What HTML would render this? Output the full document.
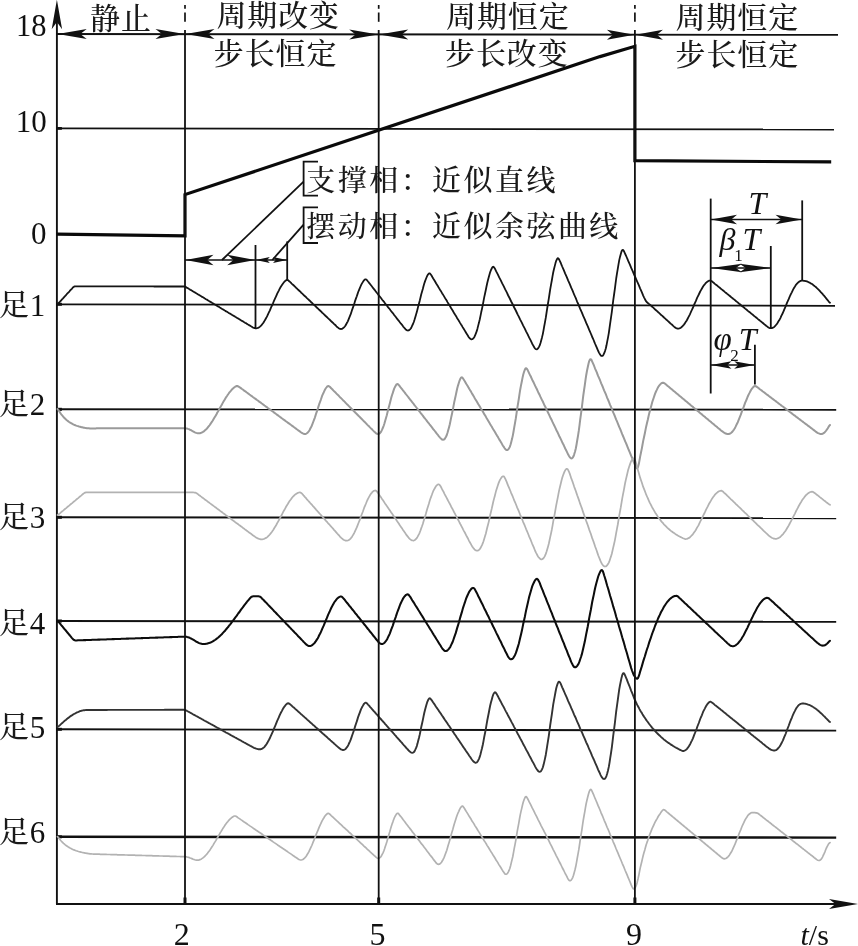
<!DOCTYPE html>
<html lang="zh-CN">
<head>
<meta charset="utf-8">
<title>六足步态相位图</title>
<style>
html,body{margin:0;padding:0;background:#fff;}
body{width:858px;height:946px;overflow:hidden;}
svg{display:block;will-change:transform;filter:grayscale(1);}
.cj{font-family:"Liberation Serif","Noto Serif CJK SC",serif;fill:#1a1a1a;font-weight:500;}
.la{font-family:"Liberation Serif","Noto Serif CJK SC",serif;fill:#111;}
</style>
</head>
<body>
<svg width="858" height="946" viewBox="0 0 858 946">
<rect x="0" y="0" width="858" height="946" fill="#ffffff"/>
<g id="lines">
<line x1="56.9" y1="14" x2="56.9" y2="904" stroke="#111" stroke-width="1.9" />
<path d="M56.9 -0.3 L51.7 29.2 L56.9 22.1 L62.1 29.2 Z" fill="#111"/>
<line x1="185" y1="5" x2="185" y2="8.8" stroke="#111" stroke-width="1.7" />
<line x1="185" y1="12.5" x2="185" y2="21.8" stroke="#111" stroke-width="1.7" />
<line x1="185" y1="897.5" x2="185" y2="904" stroke="#111" stroke-width="3" />
<line x1="378.7" y1="5" x2="378.7" y2="8.8" stroke="#111" stroke-width="1.7" />
<line x1="378.7" y1="12.5" x2="378.7" y2="21.8" stroke="#111" stroke-width="1.7" />
<line x1="378.7" y1="897.5" x2="378.7" y2="904" stroke="#111" stroke-width="3" />
<line x1="634.9" y1="5" x2="634.9" y2="8.8" stroke="#111" stroke-width="1.7" />
<line x1="634.9" y1="12.5" x2="634.9" y2="21.8" stroke="#111" stroke-width="1.7" />
<line x1="634.9" y1="897.5" x2="634.9" y2="904" stroke="#111" stroke-width="3" />
<line x1="56" y1="904" x2="840" y2="904" stroke="#111" stroke-width="2.0" />
<path d="M858.5 904 L829 899 L835.5 904 L829 909 Z" fill="#111"/>
<line x1="56.9" y1="34" x2="838" y2="34.9" stroke="#111" stroke-width="1.8" />
<path d="M57.7 34 L86.7 29 L80.3 34 L86.7 39 Z" fill="#111"/>
<path d="M184.5 34.1 L155.5 29.1 L161.9 34.1 L155.5 39.1 Z" fill="#111"/>
<path d="M185.5 34.1 L214.5 29.1 L208.1 34.1 L214.5 39.1 Z" fill="#111"/>
<path d="M378.2 34.4 L349.2 29.4 L355.6 34.4 L349.2 39.4 Z" fill="#111"/>
<path d="M379.2 34.4 L408.2 29.4 L401.8 34.4 L408.2 39.4 Z" fill="#111"/>
<path d="M634.4 34.7 L606.9 29.7 L612.9 34.7 L606.9 39.7 Z" fill="#111"/>
<path d="M635.4 34.7 L662.9 29.7 L656.9 34.7 L662.9 39.7 Z" fill="#111"/>
<line x1="56.9" y1="128.4" x2="834" y2="129.5" stroke="#111" stroke-width="1.8" />
<line x1="56.9" y1="128.4" x2="61.9" y2="128.4" stroke="#111" stroke-width="2.8" />
<line x1="56.9" y1="304.3" x2="835" y2="305.8" stroke="#111" stroke-width="1.8" />
<line x1="56.9" y1="304.3" x2="61.9" y2="304.3" stroke="#111" stroke-width="3.0" />
<line x1="56.9" y1="409.3" x2="836.2" y2="409.7" stroke="#111" stroke-width="1.9" />
<line x1="56.9" y1="409.3" x2="61.9" y2="409.3" stroke="#111" stroke-width="3.0" />
<line x1="56.9" y1="517.3" x2="836.2" y2="518.2" stroke="#111" stroke-width="1.9" />
<line x1="56.9" y1="517.3" x2="61.9" y2="517.3" stroke="#111" stroke-width="3.0" />
<line x1="56.9" y1="621" x2="836.2" y2="621.8" stroke="#111" stroke-width="1.9" />
<line x1="56.9" y1="621" x2="61.9" y2="621" stroke="#111" stroke-width="3.0" />
<line x1="56.9" y1="729.3" x2="836.2" y2="730.6" stroke="#111" stroke-width="1.9" />
<line x1="56.9" y1="729.3" x2="61.9" y2="729.3" stroke="#111" stroke-width="3.0" />
<line x1="56.9" y1="836.8" x2="836.2" y2="837.6" stroke="#111" stroke-width="2.4" />
<line x1="56.9" y1="836.8" x2="61.9" y2="836.8" stroke="#111" stroke-width="3.0" />
<path d="M56.9 234.2 L185 235.8 L185 194.6 L600 56.6 L634.9 46.3 L634.9 160.7 L831.2 161.9" fill="none" stroke="#0a0a0a" stroke-width="3.2" stroke-linejoin="miter"/>
<path d="M57.5 409 L58.2 409.8 L59 411 L59.8 412.1 L60.5 413.2 L61.2 414.3 L62 415.2 L62.8 416.1 L63.5 417 L64.2 417.8 L65 418.5 L65.8 419.3 L66.5 419.9 L67.2 420.5 L68 421.1 L68.8 421.7 L69.5 422.2 L70.2 422.7 L71 423.1 L71.8 423.5 L72.5 423.9 L73.2 424.3 L74 424.7 L74.8 425 L75.5 425.3 L76.2 425.6 L77 425.9 L77.8 426.1 L78.5 426.3 L79.2 426.6 L80 426.8 L80.8 427 L81.5 427.2 L82.2 427.3 L83 427.5 L83.8 427.7 L84.5 427.8 L85.2 427.9 L86 428.1 L86.8 428.2 L87.5 428.3 L88.2 428.3 L89 428.3 L89.8 428.4 L90.5 428.4 L91.2 428.4 L92 428.4 L92.8 428.4 L93.5 428.4 L94.2 428.4 L95 428.4 L95.8 428.4 L96.5 428.3 L97.2 428.3 L98 428.3 L98.8 428.3 L99.5 428.3 L100.2 428.3 L101 428.3 L101.8 428.3 L102.5 428.3 L103.2 428.3 L104 428.3 L104.8 428.3 L105.5 428.3 L106.2 428.3 L107 428.3 L107.8 428.3 L108.5 428.3 L109.2 428.3 L110 428.3 L110.8 428.3 L111.5 428.3 L112.2 428.3 L113 428.3 L113.8 428.3 L114.5 428.3 L115.2 428.3 L116 428.3 L116.8 428.3 L117.5 428.3 L118.2 428.3 L119 428.3 L119.8 428.3 L120.5 428.3 L121.2 428.3 L122 428.3 L122.8 428.3 L123.5 428.3 L124.2 428.3 L125 428.3 L125.8 428.3 L126.5 428.3 L127.2 428.3 L128 428.3 L128.8 428.3 L129.5 428.3 L130.2 428.3 L131 428.3 L131.8 428.3 L132.5 428.3 L133.2 428.3 L134 428.3 L134.8 428.3 L135.5 428.3 L136.2 428.3 L137 428.3 L137.8 428.3 L138.5 428.3 L139.2 428.3 L140 428.3 L140.8 428.3 L141.5 428.3 L142.2 428.3 L143 428.3 L143.8 428.3 L144.5 428.3 L145.2 428.3 L146 428.3 L146.8 428.3 L147.5 428.3 L148.2 428.3 L149 428.3 L149.8 428.3 L150.5 428.3 L151.2 428.3 L152 428.3 L152.8 428.3 L153.5 428.3 L154.2 428.3 L155 428.3 L155.8 428.3 L156.5 428.3 L157.2 428.3 L158 428.3 L158.8 428.3 L159.5 428.3 L160.2 428.3 L161 428.3 L161.8 428.3 L162.5 428.3 L163.2 428.3 L164 428.3 L164.8 428.3 L165.5 428.3 L166.2 428.3 L167 428.3 L167.8 428.3 L168.5 428.3 L169.2 428.3 L170 428.3 L170.8 428.3 L171.5 428.3 L172.2 428.3 L173 428.3 L173.8 428.3 L174.5 428.3 L175.2 428.3 L176 428.3 L176.8 428.3 L177.5 428.3 L178.2 428.3 L179 428.3 L179.8 428.3 L180.5 428.3 L181.2 428.3 L182 428.3 L182.8 428.3 L183.5 428.3 L184.2 428.3 L185 428.3 L185.8 428.4 L186.5 428.5 L187.2 428.6 L188 428.9 L188.8 429.1 L189.5 429.5 L190.2 429.8 L191 430.2 L191.8 430.7 L192.5 431.1 L193.2 431.5 L194 431.9 L194.8 432.3 L195.5 432.6 L196.2 432.9 L197 433.1 L197.8 433.3 L198.5 433.3 L199.2 433.3 L200 433.2 L200.8 432.9 L201.5 432.7 L202.2 432.3 L203 431.9 L203.8 431.4 L204.5 430.8 L205.2 430.1 L206 429.4 L206.8 428.7 L207.5 427.8 L208.2 426.9 L209 426 L209.8 425 L210.5 423.9 L211.2 422.8 L212 421.7 L212.8 420.5 L213.5 419.3 L214.2 418.1 L215 416.8 L215.8 415.5 L216.5 414.2 L217.2 412.8 L218 411.5 L218.8 410.1 L219.5 408.8 L220.2 407.4 L221 406.1 L221.8 404.7 L222.5 403.4 L223.2 402.1 L224 400.8 L224.8 399.5 L225.5 398.3 L226.2 397.1 L227 396 L227.8 394.8 L228.5 393.8 L229.2 392.7 L230 391.8 L230.8 390.9 L231.5 390 L232.2 389.2 L233 388.5 L233.8 387.8 L234.5 387.2 L235.2 386.7 L236 386.3 L236.8 386 L237.5 386 L238.2 386.3 L239 386.8 L239.8 387.3 L240.5 387.9 L241.2 388.4 L242 389 L242.8 389.5 L243.5 390.1 L244.2 390.6 L245 391.2 L245.8 391.7 L246.5 392.3 L247.2 392.8 L248 393.4 L248.8 393.9 L249.5 394.5 L250.2 395 L251 395.6 L251.8 396.1 L252.5 396.7 L253.2 397.2 L254 397.8 L254.8 398.3 L255.5 398.9 L256.2 399.4 L257 400 L257.8 400.5 L258.5 401.1 L259.2 401.6 L260 402.2 L260.8 402.7 L261.5 403.3 L262.2 403.8 L263 404.4 L263.8 404.9 L264.5 405.5 L265.2 406 L266 406.6 L266.8 407.1 L267.5 407.7 L268.2 408.2 L269 408.8 L269.8 409.3 L270.5 409.9 L271.2 410.4 L272 411 L272.8 411.5 L273.5 412.1 L274.2 412.7 L275 413.2 L275.8 413.8 L276.5 414.3 L277.2 414.9 L278 415.4 L278.8 416 L279.5 416.5 L280.2 417.1 L281 417.6 L281.8 418.2 L282.5 418.7 L283.2 419.3 L284 419.8 L284.8 420.4 L285.5 420.9 L286.2 421.5 L287 422 L287.8 422.6 L288.5 423.1 L289.2 423.7 L290 424.2 L290.8 424.8 L291.5 425.3 L292.2 425.9 L293 426.4 L293.8 427 L294.5 427.5 L295.2 428.1 L296 428.6 L296.8 429.2 L297.5 429.7 L298.2 430.3 L299 430.8 L299.8 431.4 L300.5 431.9 L301.2 432.5 L302 433 L302.8 433.4 L303.5 433.7 L304.2 434 L305 434 L305.8 433.9 L306.5 433.5 L307.2 433 L308 432.2 L308.8 431.3 L309.5 430.2 L310.2 428.8 L311 427.3 L311.8 425.7 L312.5 423.9 L313.2 422 L314 419.9 L314.8 417.8 L315.5 415.6 L316.2 413.3 L317 411.1 L317.8 408.7 L318.5 406.4 L319.2 404.2 L320 402 L320.8 399.8 L321.5 397.7 L322.2 395.7 L323 393.9 L323.8 392.2 L324.5 390.6 L325.2 389.2 L326 388 L326.8 387 L327.5 386.3 L328.2 386 L329 386.2 L329.8 386.8 L330.5 387.5 L331.2 388.3 L332 389 L332.8 389.8 L333.5 390.6 L334.2 391.3 L335 392.1 L335.8 392.8 L336.5 393.6 L337.2 394.3 L338 395.1 L338.8 395.8 L339.5 396.6 L340.2 397.4 L341 398.1 L341.8 398.9 L342.5 399.6 L343.2 400.4 L344 401.1 L344.8 401.9 L345.5 402.7 L346.2 403.4 L347 404.2 L347.8 404.9 L348.5 405.7 L349.2 406.4 L350 407.2 L350.8 408 L351.5 408.7 L352.2 409.5 L353 410.2 L353.8 411 L354.5 411.7 L355.2 412.5 L356 413.2 L356.8 414 L357.5 414.8 L358.2 415.5 L359 416.3 L359.8 417 L360.5 417.8 L361.2 418.5 L362 419.3 L362.8 420.1 L363.5 420.8 L364.2 421.6 L365 422.3 L365.8 423.1 L366.5 423.8 L367.2 424.6 L368 425.4 L368.8 426.1 L369.5 426.9 L370.2 427.6 L371 428.4 L371.8 429.1 L372.5 429.9 L373.2 430.6 L374 431.4 L374.8 432.1 L375.5 432.8 L376.2 433.4 L377 433.8 L377.8 434 L378.5 434 L379.2 433.7 L380 433.1 L380.8 432.2 L381.5 430.9 L382.2 429.4 L383 427.5 L383.8 425.5 L384.5 423.2 L385.2 420.7 L386 418 L386.8 415.2 L387.5 412.3 L388.2 409.4 L389 406.5 L389.8 403.5 L390.5 400.7 L391.2 397.9 L392 395.3 L392.8 392.9 L393.5 390.6 L394.2 388.6 L395 386.9 L395.8 385.5 L396.5 384.4 L397.2 384 L398 384.2 L398.8 385 L399.5 385.9 L400.2 386.9 L401 387.8 L401.8 388.8 L402.5 389.7 L403.2 390.7 L404 391.7 L404.8 392.6 L405.5 393.6 L406.2 394.5 L407 395.5 L407.8 396.5 L408.5 397.4 L409.2 398.4 L410 399.3 L410.8 400.3 L411.5 401.2 L412.2 402.2 L413 403.2 L413.8 404.1 L414.5 405.1 L415.2 406 L416 407 L416.8 408 L417.5 408.9 L418.2 409.9 L419 410.8 L419.8 411.8 L420.5 412.8 L421.2 413.7 L422 414.7 L422.8 415.6 L423.5 416.6 L424.2 417.6 L425 418.5 L425.8 419.5 L426.5 420.4 L427.2 421.4 L428 422.4 L428.8 423.3 L429.5 424.3 L430.2 425.2 L431 426.2 L431.8 427.2 L432.5 428.1 L433.2 429.1 L434 430 L434.8 431 L435.5 431.9 L436.2 432.9 L437 433.9 L437.8 434.8 L438.5 435.8 L439.2 436.7 L440 437.6 L440.8 438.4 L441.5 439.1 L442.2 439.6 L443 439.8 L443.8 439.6 L444.5 439.1 L445.2 438.1 L446 436.7 L446.8 435 L447.5 432.8 L448.2 430.3 L449 427.4 L449.8 424.3 L450.5 420.9 L451.2 417.4 L452 413.7 L452.8 409.9 L453.5 406.1 L454.2 402.4 L455 398.7 L455.8 395.1 L456.5 391.7 L457.2 388.5 L458 385.6 L458.8 383 L459.5 380.8 L460.2 379 L461 377.7 L461.8 377.3 L462.5 377.7 L463.2 378.8 L464 380 L464.8 381.2 L465.5 382.5 L466.2 383.8 L467 385 L467.8 386.3 L468.5 387.6 L469.2 388.8 L470 390.1 L470.8 391.3 L471.5 392.6 L472.2 393.9 L473 395.1 L473.8 396.4 L474.5 397.7 L475.2 398.9 L476 400.2 L476.8 401.5 L477.5 402.7 L478.2 404 L479 405.2 L479.8 406.5 L480.5 407.8 L481.2 409 L482 410.3 L482.8 411.6 L483.5 412.8 L484.2 414.1 L485 415.3 L485.8 416.6 L486.5 417.9 L487.2 419.1 L488 420.4 L488.8 421.7 L489.5 422.9 L490.2 424.2 L491 425.5 L491.8 426.7 L492.5 428 L493.2 429.2 L494 430.5 L494.8 431.8 L495.5 433 L496.2 434.3 L497 435.6 L497.8 436.8 L498.5 438.1 L499.2 439.4 L500 440.6 L500.8 441.9 L501.5 443.1 L502.2 444.4 L503 445.7 L503.8 446.9 L504.5 448 L505.2 449 L506 449.7 L506.8 450 L507.5 450 L508.2 449.5 L509 448.4 L509.8 446.9 L510.5 444.8 L511.2 442.2 L512 439.1 L512.8 435.6 L513.5 431.8 L514.2 427.6 L515 423.1 L515.8 418.4 L516.5 413.6 L517.2 408.7 L518 403.8 L518.8 399 L519.5 394.2 L520.2 389.7 L521 385.4 L521.8 381.5 L522.5 377.9 L523.2 374.7 L524 372 L524.8 369.8 L525.5 368.5 L526.2 368.2 L527 369 L527.8 370.3 L528.5 371.8 L529.2 373.4 L530 375 L530.8 376.5 L531.5 378.1 L532.2 379.7 L533 381.2 L533.8 382.8 L534.5 384.3 L535.2 385.9 L536 387.5 L536.8 389 L537.5 390.6 L538.2 392.2 L539 393.7 L539.8 395.3 L540.5 396.9 L541.2 398.4 L542 400 L542.8 401.5 L543.5 403.1 L544.2 404.7 L545 406.2 L545.8 407.8 L546.5 409.4 L547.2 410.9 L548 412.5 L548.8 414.1 L549.5 415.6 L550.2 417.2 L551 418.7 L551.8 420.3 L552.5 421.9 L553.2 423.4 L554 425 L554.8 426.6 L555.5 428.1 L556.2 429.7 L557 431.3 L557.8 432.8 L558.5 434.4 L559.2 436 L560 437.5 L560.8 439.1 L561.5 440.6 L562.2 442.2 L563 443.8 L563.8 445.3 L564.5 446.9 L565.2 448.5 L566 450 L566.8 451.6 L567.5 453.1 L568.2 454.6 L569 456 L569.8 457.1 L570.5 458 L571.2 458.4 L572 458.3 L572.8 457.6 L573.5 456.3 L574.2 454.3 L575 451.7 L575.8 448.5 L576.5 444.7 L577.2 440.5 L578 435.8 L578.8 430.7 L579.5 425.3 L580.2 419.6 L581 413.8 L581.8 407.9 L582.5 402 L583.2 396.2 L584 390.5 L584.8 385.1 L585.5 379.9 L586.2 375.2 L587 370.8 L587.8 367 L588.5 363.7 L589.2 361.1 L590 359.5 L590.8 359.2 L591.5 360 L592.2 361.6 L593 363.4 L593.8 365.2 L594.5 367 L595.2 368.8 L596 370.6 L596.8 372.4 L597.5 374.3 L598.2 376.1 L599 377.9 L599.8 379.7 L600.5 381.5 L601.2 383.3 L602 385.1 L602.8 387 L603.5 388.8 L604.2 390.6 L605 392.4 L605.8 394.2 L606.5 396 L607.2 397.8 L608 399.7 L608.8 401.5 L609.5 403.3 L610.2 405.1 L611 406.9 L611.8 408.7 L612.5 410.6 L613.2 412.4 L614 414.2 L614.8 416 L615.5 417.8 L616.2 419.6 L617 421.4 L617.8 423.3 L618.5 425.1 L619.2 426.9 L620 428.7 L620.8 430.5 L621.5 432.3 L622.2 434.1 L623 436 L623.8 437.8 L624.5 439.6 L625.2 441.4 L626 443.2 L626.8 445 L627.5 446.9 L628.2 448.7 L629 450.5 L629.8 452.3 L630.5 454.1 L631.2 455.9 L632 457.7 L632.8 459.6 L633.5 461.4 L634.2 463.2 L635 465 L635.8 466.7 L636.5 468.1 L637.2 468.5 L638 467.1 L638.8 464.1 L639.5 460.4 L640.2 456.4 L641 452.5 L641.8 448.6 L642.5 444.7 L643.2 440.9 L644 437.2 L644.8 433.5 L645.5 429.9 L646.2 426.4 L647 423 L647.8 419.7 L648.5 416.5 L649.2 413.4 L650 410.4 L650.8 407.6 L651.5 404.9 L652.2 402.3 L653 399.8 L653.8 397.5 L654.5 395.4 L655.2 393.4 L656 391.5 L656.8 389.9 L657.5 388.4 L658.2 387 L659 385.9 L659.8 384.9 L660.5 384.1 L661.2 383.4 L662 383 L662.8 382.7 L663.5 382.8 L664.2 383.2 L665 383.7 L665.8 384.3 L666.5 384.9 L667.2 385.6 L668 386.2 L668.8 386.8 L669.5 387.4 L670.2 388.1 L671 388.7 L671.8 389.3 L672.5 389.9 L673.2 390.6 L674 391.2 L674.8 391.8 L675.5 392.4 L676.2 393.1 L677 393.7 L677.8 394.3 L678.5 394.9 L679.2 395.6 L680 396.2 L680.8 396.8 L681.5 397.4 L682.2 398.1 L683 398.7 L683.8 399.3 L684.5 399.9 L685.2 400.6 L686 401.2 L686.8 401.8 L687.5 402.4 L688.2 403.1 L689 403.7 L689.8 404.3 L690.5 405 L691.2 405.6 L692 406.2 L692.8 406.8 L693.5 407.5 L694.2 408.1 L695 408.7 L695.8 409.3 L696.5 410 L697.2 410.6 L698 411.2 L698.8 411.8 L699.5 412.5 L700.2 413.1 L701 413.7 L701.8 414.3 L702.5 415 L703.2 415.6 L704 416.2 L704.8 416.8 L705.5 417.5 L706.2 418.1 L707 418.7 L707.8 419.3 L708.5 420 L709.2 420.6 L710 421.2 L710.8 421.8 L711.5 422.5 L712.2 423.1 L713 423.7 L713.8 424.3 L714.5 425 L715.2 425.6 L716 426.2 L716.8 426.8 L717.5 427.5 L718.2 428.1 L719 428.7 L719.8 429.3 L720.5 430 L721.2 430.6 L722 431.2 L722.8 431.7 L723.5 432.3 L724.2 432.7 L725 433.2 L725.8 433.5 L726.5 433.8 L727.2 433.9 L728 434 L728.8 434 L729.5 433.8 L730.2 433.5 L731 433 L731.8 432.3 L732.5 431.5 L733.2 430.6 L734 429.5 L734.8 428.3 L735.5 426.9 L736.2 425.4 L737 423.8 L737.8 422.2 L738.5 420.4 L739.2 418.6 L740 416.7 L740.8 414.7 L741.5 412.7 L742.2 410.7 L743 408.7 L743.8 406.7 L744.5 404.7 L745.2 402.7 L746 400.8 L746.8 399 L747.5 397.2 L748.2 395.5 L749 393.9 L749.8 392.4 L750.5 391 L751.2 389.8 L752 388.6 L752.8 387.7 L753.5 386.8 L754.2 386.2 L755 386 L755.8 386.2 L756.5 386.6 L757.2 387.2 L758 387.7 L758.8 388.3 L759.5 388.9 L760.2 389.5 L761 390 L761.8 390.6 L762.5 391.2 L763.2 391.7 L764 392.3 L764.8 392.9 L765.5 393.4 L766.2 394 L767 394.6 L767.8 395.1 L768.5 395.7 L769.2 396.3 L770 396.9 L770.8 397.4 L771.5 398 L772.2 398.6 L773 399.1 L773.8 399.7 L774.5 400.3 L775.2 400.8 L776 401.4 L776.8 402 L777.5 402.5 L778.2 403.1 L779 403.7 L779.8 404.3 L780.5 404.8 L781.2 405.4 L782 406 L782.8 406.5 L783.5 407.1 L784.2 407.7 L785 408.2 L785.8 408.8 L786.5 409.4 L787.2 409.9 L788 410.5 L788.8 411.1 L789.5 411.7 L790.2 412.2 L791 412.8 L791.8 413.4 L792.5 413.9 L793.2 414.5 L794 415.1 L794.8 415.6 L795.5 416.2 L796.2 416.8 L797 417.3 L797.8 417.9 L798.5 418.5 L799.2 419 L800 419.6 L800.8 420.2 L801.5 420.8 L802.2 421.3 L803 421.9 L803.8 422.5 L804.5 423 L805.2 423.6 L806 424.2 L806.8 424.7 L807.5 425.3 L808.2 425.9 L809 426.4 L809.8 427 L810.5 427.6 L811.2 428.2 L812 428.7 L812.8 429.3 L813.5 429.9 L814.2 430.4 L815 431 L815.8 431.6 L816.5 432.1 L817.2 432.6 L818 433.1 L818.8 433.4 L819.5 433.7 L820.2 433.9 L821 434 L821.8 434 L822.5 433.8 L823.2 433.4 L824 432.9 L824.8 432.2 L825.5 431.4 L826.2 430.5 L827 429.4 L827.8 428.2 L828.5 427 L829.2 425.9 L830 425" fill="none" stroke="#9a9a9a" stroke-width="2.0" stroke-linejoin="round" stroke-linecap="round" />
<path d="M57.5 515 L58.2 514.6 L59 514 L59.8 513.4 L60.5 512.8 L61.2 512.2 L62 511.5 L62.8 510.9 L63.5 510.3 L64.2 509.7 L65 509 L65.8 508.4 L66.5 507.8 L67.2 507.2 L68 506.5 L68.8 505.9 L69.5 505.3 L70.2 504.7 L71 504 L71.8 503.4 L72.5 502.8 L73.2 502.2 L74 501.5 L74.8 500.9 L75.5 500.3 L76.2 499.7 L77 499 L77.8 498.4 L78.5 497.8 L79.2 497.2 L80 496.5 L80.8 495.9 L81.5 495.3 L82.2 494.7 L83 494 L83.8 493.4 L84.5 492.9 L85.2 492.6 L86 492.4 L86.8 492.4 L87.5 492.4 L88.2 492.4 L89 492.4 L89.8 492.4 L90.5 492.4 L91.2 492.4 L92 492.4 L92.8 492.4 L93.5 492.4 L94.2 492.4 L95 492.4 L95.8 492.4 L96.5 492.4 L97.2 492.4 L98 492.4 L98.8 492.4 L99.5 492.4 L100.2 492.4 L101 492.4 L101.8 492.4 L102.5 492.4 L103.2 492.4 L104 492.4 L104.8 492.4 L105.5 492.4 L106.2 492.4 L107 492.4 L107.8 492.4 L108.5 492.4 L109.2 492.4 L110 492.4 L110.8 492.4 L111.5 492.4 L112.2 492.4 L113 492.4 L113.8 492.4 L114.5 492.4 L115.2 492.4 L116 492.4 L116.8 492.4 L117.5 492.4 L118.2 492.4 L119 492.4 L119.8 492.4 L120.5 492.4 L121.2 492.4 L122 492.4 L122.8 492.4 L123.5 492.4 L124.2 492.4 L125 492.4 L125.8 492.4 L126.5 492.4 L127.2 492.4 L128 492.4 L128.8 492.4 L129.5 492.4 L130.2 492.4 L131 492.4 L131.8 492.4 L132.5 492.4 L133.2 492.4 L134 492.4 L134.8 492.4 L135.5 492.4 L136.2 492.4 L137 492.4 L137.8 492.4 L138.5 492.4 L139.2 492.4 L140 492.4 L140.8 492.4 L141.5 492.4 L142.2 492.4 L143 492.4 L143.8 492.4 L144.5 492.4 L145.2 492.4 L146 492.4 L146.8 492.4 L147.5 492.4 L148.2 492.4 L149 492.4 L149.8 492.4 L150.5 492.4 L151.2 492.4 L152 492.4 L152.8 492.4 L153.5 492.4 L154.2 492.4 L155 492.4 L155.8 492.4 L156.5 492.4 L157.2 492.4 L158 492.4 L158.8 492.4 L159.5 492.4 L160.2 492.4 L161 492.4 L161.8 492.4 L162.5 492.4 L163.2 492.4 L164 492.4 L164.8 492.4 L165.5 492.4 L166.2 492.4 L167 492.4 L167.8 492.4 L168.5 492.4 L169.2 492.4 L170 492.4 L170.8 492.4 L171.5 492.4 L172.2 492.4 L173 492.4 L173.8 492.4 L174.5 492.4 L175.2 492.4 L176 492.4 L176.8 492.4 L177.5 492.4 L178.2 492.4 L179 492.4 L179.8 492.4 L180.5 492.4 L181.2 492.4 L182 492.4 L182.8 492.4 L183.5 492.4 L184.2 492.4 L185 492.4 L185.8 492.4 L186.5 492.4 L187.2 492.4 L188 492.4 L188.8 492.4 L189.5 492.4 L190.2 492.4 L191 492.4 L191.8 492.4 L192.5 492.4 L193.2 492.4 L194 492.5 L194.8 492.5 L195.5 492.7 L196.2 493.1 L197 493.6 L197.8 494.1 L198.5 494.7 L199.2 495.2 L200 495.8 L200.8 496.4 L201.5 496.9 L202.2 497.5 L203 498 L203.8 498.6 L204.5 499.2 L205.2 499.7 L206 500.3 L206.8 500.8 L207.5 501.4 L208.2 502 L209 502.5 L209.8 503.1 L210.5 503.6 L211.2 504.2 L212 504.8 L212.8 505.3 L213.5 505.9 L214.2 506.4 L215 507 L215.8 507.5 L216.5 508.1 L217.2 508.7 L218 509.2 L218.8 509.8 L219.5 510.3 L220.2 510.9 L221 511.5 L221.8 512 L222.5 512.6 L223.2 513.1 L224 513.7 L224.8 514.3 L225.5 514.8 L226.2 515.4 L227 515.9 L227.8 516.5 L228.5 517.1 L229.2 517.6 L230 518.2 L230.8 518.7 L231.5 519.3 L232.2 519.9 L233 520.4 L233.8 521 L234.5 521.5 L235.2 522.1 L236 522.7 L236.8 523.2 L237.5 523.8 L238.2 524.3 L239 524.9 L239.8 525.4 L240.5 526 L241.2 526.6 L242 527.1 L242.8 527.7 L243.5 528.2 L244.2 528.8 L245 529.4 L245.8 529.9 L246.5 530.5 L247.2 531 L248 531.6 L248.8 532.2 L249.5 532.7 L250.2 533.3 L251 533.8 L251.8 534.4 L252.5 535 L253.2 535.5 L254 536.1 L254.8 536.6 L255.5 537.1 L256.2 537.6 L257 538 L257.8 538.4 L258.5 538.7 L259.2 538.9 L260 539.1 L260.8 539.3 L261.5 539.3 L262.2 539.3 L263 539.2 L263.8 539 L264.5 538.7 L265.2 538.3 L266 537.9 L266.8 537.4 L267.5 536.8 L268.2 536.1 L269 535.4 L269.8 534.5 L270.5 533.6 L271.2 532.7 L272 531.7 L272.8 530.6 L273.5 529.5 L274.2 528.3 L275 527.1 L275.8 525.8 L276.5 524.5 L277.2 523.1 L278 521.8 L278.8 520.4 L279.5 519 L280.2 517.6 L281 516.2 L281.8 514.8 L282.5 513.3 L283.2 511.9 L284 510.5 L284.8 509.2 L285.5 507.8 L286.2 506.5 L287 505.2 L287.8 504 L288.5 502.8 L289.2 501.6 L290 500.5 L290.8 499.5 L291.5 498.5 L292.2 497.5 L293 496.7 L293.8 495.9 L294.5 495.2 L295.2 494.5 L296 494 L296.8 493.5 L297.5 493.1 L298.2 492.8 L299 492.5 L299.8 492.4 L300.5 492.6 L301.2 493 L302 493.7 L302.8 494.5 L303.5 495.4 L304.2 496.2 L305 497.1 L305.8 497.9 L306.5 498.8 L307.2 499.6 L308 500.5 L308.8 501.3 L309.5 502.1 L310.2 503 L311 503.8 L311.8 504.7 L312.5 505.5 L313.2 506.4 L314 507.2 L314.8 508.1 L315.5 508.9 L316.2 509.8 L317 510.6 L317.8 511.5 L318.5 512.3 L319.2 513.2 L320 514 L320.8 514.8 L321.5 515.7 L322.2 516.5 L323 517.4 L323.8 518.2 L324.5 519.1 L325.2 519.9 L326 520.8 L326.8 521.6 L327.5 522.5 L328.2 523.3 L329 524.2 L329.8 525 L330.5 525.8 L331.2 526.7 L332 527.5 L332.8 528.4 L333.5 529.2 L334.2 530.1 L335 530.9 L335.8 531.8 L336.5 532.6 L337.2 533.5 L338 534.3 L338.8 535.2 L339.5 536 L340.2 536.8 L341 537.6 L341.8 538.3 L342.5 538.9 L343.2 539.5 L344 540 L344.8 540.3 L345.5 540.6 L346.2 540.7 L347 540.7 L347.8 540.5 L348.5 540.2 L349.2 539.8 L350 539.1 L350.8 538.3 L351.5 537.4 L352.2 536.4 L353 535.1 L353.8 533.8 L354.5 532.4 L355.2 530.8 L356 529.1 L356.8 527.4 L357.5 525.6 L358.2 523.7 L359 521.7 L359.8 519.8 L360.5 517.7 L361.2 515.7 L362 513.7 L362.8 511.7 L363.5 509.7 L364.2 507.7 L365 505.8 L365.8 504 L366.5 502.2 L367.2 500.5 L368 498.9 L368.8 497.4 L369.5 496.1 L370.2 494.8 L371 493.7 L371.8 492.8 L372.5 491.9 L373.2 491.3 L374 490.8 L374.8 490.5 L375.5 490.4 L376.2 490.8 L377 491.6 L377.8 492.6 L378.5 493.7 L379.2 494.8 L380 495.9 L380.8 497 L381.5 498.1 L382.2 499.2 L383 500.3 L383.8 501.5 L384.5 502.6 L385.2 503.7 L386 504.8 L386.8 505.9 L387.5 507 L388.2 508.1 L389 509.2 L389.8 510.3 L390.5 511.4 L391.2 512.5 L392 513.6 L392.8 514.7 L393.5 515.8 L394.2 516.9 L395 518 L395.8 519.1 L396.5 520.2 L397.2 521.3 L398 522.4 L398.8 523.5 L399.5 524.7 L400.2 525.8 L401 526.9 L401.8 528 L402.5 529.1 L403.2 530.2 L404 531.3 L404.8 532.4 L405.5 533.5 L406.2 534.6 L407 535.6 L407.8 536.6 L408.5 537.5 L409.2 538.4 L410 539.1 L410.8 539.7 L411.5 540.1 L412.2 540.4 L413 540.5 L413.8 540.5 L414.5 540.2 L415.2 539.7 L416 539 L416.8 538.1 L417.5 536.9 L418.2 535.6 L419 534.1 L419.8 532.3 L420.5 530.5 L421.2 528.4 L422 526.3 L422.8 524 L423.5 521.6 L424.2 519.2 L425 516.7 L425.8 514.1 L426.5 511.6 L427.2 509 L428 506.5 L428.8 504 L429.5 501.6 L430.2 499.3 L431 497.1 L431.8 495 L432.5 493 L433.2 491.2 L434 489.6 L434.8 488.2 L435.5 487 L436.2 485.9 L437 485.1 L437.8 484.5 L438.5 484.3 L439.2 484.5 L440 485.4 L440.8 486.6 L441.5 488 L442.2 489.5 L443 490.9 L443.8 492.3 L444.5 493.8 L445.2 495.2 L446 496.6 L446.8 498.1 L447.5 499.5 L448.2 500.9 L449 502.4 L449.8 503.8 L450.5 505.2 L451.2 506.7 L452 508.1 L452.8 509.5 L453.5 511 L454.2 512.4 L455 513.8 L455.8 515.3 L456.5 516.7 L457.2 518.2 L458 519.6 L458.8 521 L459.5 522.5 L460.2 523.9 L461 525.3 L461.8 526.8 L462.5 528.2 L463.2 529.6 L464 531.1 L464.8 532.5 L465.5 533.9 L466.2 535.4 L467 536.8 L467.8 538.2 L468.5 539.7 L469.2 541.1 L470 542.5 L470.8 543.9 L471.5 545.2 L472.2 546.4 L473 547.6 L473.8 548.5 L474.5 549.4 L475.2 550 L476 550.5 L476.8 550.7 L477.5 550.7 L478.2 550.5 L479 549.9 L479.8 549.1 L480.5 548.1 L481.2 546.7 L482 545.1 L482.8 543.2 L483.5 541.2 L484.2 538.9 L485 536.3 L485.8 533.7 L486.5 530.8 L487.2 527.8 L488 524.7 L488.8 521.6 L489.5 518.3 L490.2 515 L491 511.7 L491.8 508.4 L492.5 505.2 L493.2 502 L494 498.9 L494.8 495.9 L495.5 493.1 L496.2 490.4 L497 487.9 L497.8 485.5 L498.5 483.4 L499.2 481.6 L500 479.9 L500.8 478.6 L501.5 477.5 L502.2 476.7 L503 476.3 L503.8 476.4 L504.5 477.3 L505.2 478.7 L506 480.4 L506.8 482.2 L507.5 484.1 L508.2 485.9 L509 487.7 L509.8 489.5 L510.5 491.3 L511.2 493.1 L512 494.9 L512.8 496.7 L513.5 498.5 L514.2 500.4 L515 502.2 L515.8 504 L516.5 505.8 L517.2 507.6 L518 509.4 L518.8 511.2 L519.5 513 L520.2 514.8 L521 516.7 L521.8 518.5 L522.5 520.3 L523.2 522.1 L524 523.9 L524.8 525.7 L525.5 527.5 L526.2 529.3 L527 531.1 L527.8 533 L528.5 534.8 L529.2 536.6 L530 538.4 L530.8 540.2 L531.5 542 L532.2 543.8 L533 545.6 L533.8 547.4 L534.5 549.2 L535.2 551 L536 552.6 L536.8 554.1 L537.5 555.5 L538.2 556.7 L539 557.7 L539.8 558.5 L540.5 559.1 L541.2 559.3 L542 559.3 L542.8 558.9 L543.5 558.2 L544.2 557.1 L545 555.7 L545.8 553.9 L546.5 551.8 L547.2 549.4 L548 546.7 L548.8 543.8 L549.5 540.5 L550.2 537.1 L551 533.5 L551.8 529.7 L552.5 525.8 L553.2 521.7 L554 517.7 L554.8 513.5 L555.5 509.4 L556.2 505.4 L557 501.3 L557.8 497.4 L558.5 493.7 L559.2 490.1 L560 486.7 L560.8 483.5 L561.5 480.5 L562.2 477.9 L563 475.5 L563.8 473.4 L564.5 471.7 L565.2 470.3 L566 469.3 L566.8 468.8 L567.5 469 L568.2 470.1 L569 471.8 L569.8 473.9 L570.5 476 L571.2 478.1 L572 480.3 L572.8 482.4 L573.5 484.6 L574.2 486.7 L575 488.9 L575.8 491 L576.5 493.1 L577.2 495.3 L578 497.4 L578.8 499.6 L579.5 501.7 L580.2 503.9 L581 506 L581.8 508.1 L582.5 510.3 L583.2 512.4 L584 514.6 L584.8 516.7 L585.5 518.9 L586.2 521 L587 523.1 L587.8 525.3 L588.5 527.4 L589.2 529.6 L590 531.7 L590.8 533.8 L591.5 536 L592.2 538.1 L593 540.3 L593.8 542.4 L594.5 544.6 L595.2 546.7 L596 548.8 L596.8 551 L597.5 553.1 L598.2 555.2 L599 557.2 L599.8 559.1 L600.5 560.9 L601.2 562.5 L602 563.9 L602.8 565 L603.5 565.8 L604.2 566.3 L605 566.5 L605.8 566.4 L606.5 566 L607.2 565.2 L608 564.1 L608.8 562.6 L609.5 560.9 L610.2 558.8 L611 556.4 L611.8 553.7 L612.5 550.8 L613.2 547.6 L614 544.2 L614.8 540.6 L615.5 536.8 L616.2 532.8 L617 528.7 L617.8 524.5 L618.5 520.2 L619.2 515.9 L620 511.5 L620.8 507.2 L621.5 502.9 L622.2 498.6 L623 494.4 L623.8 490.4 L624.5 486.5 L625.2 482.7 L626 479.1 L626.8 475.8 L627.5 472.7 L628.2 469.8 L629 467.2 L629.8 464.9 L630.5 462.9 L631.2 461.2 L632 459.8 L632.8 458.8 L633.5 458.3 L634.2 458.6 L635 459.9 L635.8 462.2 L636.5 464.9 L637.2 467.6 L638 470.3 L638.8 472.9 L639.5 475.5 L640.2 477.9 L641 480.2 L641.8 482.5 L642.5 484.7 L643.2 486.9 L644 488.9 L644.8 490.9 L645.5 492.8 L646.2 494.7 L647 496.5 L647.8 498.2 L648.5 499.9 L649.2 501.5 L650 503.1 L650.8 504.6 L651.5 506 L652.2 507.5 L653 508.8 L653.8 510.1 L654.5 511.4 L655.2 512.7 L656 513.8 L656.8 515 L657.5 516.1 L658.2 517.2 L659 518.2 L659.8 519.2 L660.5 520.2 L661.2 521.2 L662 522.1 L662.8 522.9 L663.5 523.8 L664.2 524.6 L665 525.4 L665.8 526.2 L666.5 526.9 L667.2 527.6 L668 528.3 L668.8 529 L669.5 529.6 L670.2 530.3 L671 530.9 L671.8 531.4 L672.5 532 L673.2 532.6 L674 533.1 L674.8 533.6 L675.5 534.1 L676.2 534.6 L677 535 L677.8 535.5 L678.5 535.9 L679.2 536.3 L680 536.7 L680.8 537.1 L681.5 537.5 L682.2 537.8 L683 538.2 L683.8 538.5 L684.5 538.8 L685.2 539 L686 539 L686.8 538.9 L687.5 538.7 L688.2 538.3 L689 537.9 L689.8 537.4 L690.5 536.7 L691.2 536 L692 535.2 L692.8 534.3 L693.5 533.3 L694.2 532.3 L695 531.2 L695.8 530 L696.5 528.7 L697.2 527.4 L698 526.1 L698.8 524.7 L699.5 523.2 L700.2 521.7 L701 520.2 L701.8 518.7 L702.5 517.1 L703.2 515.6 L704 514 L704.8 512.5 L705.5 510.9 L706.2 509.4 L707 507.9 L707.8 506.4 L708.5 504.9 L709.2 503.5 L710 502.2 L710.8 500.9 L711.5 499.6 L712.2 498.4 L713 497.3 L713.8 496.3 L714.5 495.3 L715.2 494.4 L716 493.6 L716.8 492.9 L717.5 492.3 L718.2 491.8 L719 491.3 L719.8 491 L720.5 490.8 L721.2 490.7 L722 490.9 L722.8 491.4 L723.5 492.1 L724.2 492.8 L725 493.5 L725.8 494.2 L726.5 494.9 L727.2 495.7 L728 496.4 L728.8 497.1 L729.5 497.8 L730.2 498.5 L731 499.3 L731.8 500 L732.5 500.7 L733.2 501.4 L734 502.2 L734.8 502.9 L735.5 503.6 L736.2 504.3 L737 505 L737.8 505.8 L738.5 506.5 L739.2 507.2 L740 507.9 L740.8 508.7 L741.5 509.4 L742.2 510.1 L743 510.8 L743.8 511.5 L744.5 512.3 L745.2 513 L746 513.7 L746.8 514.4 L747.5 515.2 L748.2 515.9 L749 516.6 L749.8 517.3 L750.5 518.1 L751.2 518.8 L752 519.5 L752.8 520.2 L753.5 520.9 L754.2 521.7 L755 522.4 L755.8 523.1 L756.5 523.8 L757.2 524.6 L758 525.3 L758.8 526 L759.5 526.7 L760.2 527.4 L761 528.2 L761.8 528.9 L762.5 529.6 L763.2 530.3 L764 531.1 L764.8 531.8 L765.5 532.5 L766.2 533.2 L767 533.9 L767.8 534.6 L768.5 535.3 L769.2 536 L770 536.6 L770.8 537.1 L771.5 537.6 L772.2 538 L773 538.3 L773.8 538.6 L774.5 538.7 L775.2 538.8 L776 538.8 L776.8 538.6 L777.5 538.4 L778.2 538.1 L779 537.7 L779.8 537.2 L780.5 536.7 L781.2 536 L782 535.2 L782.8 534.4 L783.5 533.5 L784.2 532.5 L785 531.5 L785.8 530.4 L786.5 529.2 L787.2 528 L788 526.7 L788.8 525.4 L789.5 524 L790.2 522.6 L791 521.2 L791.8 519.7 L792.5 518.3 L793.2 516.8 L794 515.3 L794.8 513.8 L795.5 512.3 L796.2 510.8 L797 509.4 L797.8 507.9 L798.5 506.5 L799.2 505.2 L800 503.8 L800.8 502.6 L801.5 501.3 L802.2 500.1 L803 499 L803.8 498 L804.5 497 L805.2 496.1 L806 495.2 L806.8 494.5 L807.5 493.8 L808.2 493.2 L809 492.7 L809.8 492.3 L810.5 492 L811.2 491.8 L812 491.7 L812.8 491.8 L813.5 492.2 L814.2 492.7 L815 493.3 L815.8 493.9 L816.5 494.5 L817.2 495.1 L818 495.6 L818.8 496.2 L819.5 496.8 L820.2 497.4 L821 498 L821.8 498.6 L822.5 499.2 L823.2 499.8 L824 500.4 L824.8 500.9 L825.5 501.5 L826.2 502.1 L827 502.7 L827.8 503.3 L828.5 503.9 L829.2 504.4 L830 504.8" fill="none" stroke="#b2b2b2" stroke-width="1.75" stroke-linejoin="round" stroke-linecap="round" />
<path d="M57.5 836.7 L58.2 837.4 L59 838.4 L59.8 839.3 L60.5 840.2 L61.2 841 L62 841.8 L62.8 842.6 L63.5 843.3 L64.2 843.9 L65 844.6 L65.8 845.2 L66.5 845.7 L67.2 846.3 L68 846.8 L68.8 847.2 L69.5 847.7 L70.2 848.1 L71 848.5 L71.8 848.9 L72.5 849.3 L73.2 849.6 L74 849.9 L74.8 850.2 L75.5 850.5 L76.2 850.8 L77 851 L77.8 851.3 L78.5 851.5 L79.2 851.7 L80 851.9 L80.8 852.1 L81.5 852.3 L82.2 852.5 L83 852.6 L83.8 852.8 L84.5 852.9 L85.2 853.1 L86 853.2 L86.8 853.3 L87.5 853.4 L88.2 853.6 L89 853.7 L89.8 853.8 L90.5 853.8 L91.2 853.9 L92 854 L92.8 854 L93.5 854.1 L94.2 854.1 L95 854.1 L95.8 854.1 L96.5 854.2 L97.2 854.2 L98 854.2 L98.8 854.2 L99.5 854.2 L100.2 854.3 L101 854.3 L101.8 854.3 L102.5 854.3 L103.2 854.3 L104 854.4 L104.8 854.4 L105.5 854.4 L106.2 854.4 L107 854.5 L107.8 854.5 L108.5 854.5 L109.2 854.5 L110 854.5 L110.8 854.6 L111.5 854.6 L112.2 854.6 L113 854.6 L113.8 854.6 L114.5 854.7 L115.2 854.7 L116 854.7 L116.8 854.7 L117.5 854.8 L118.2 854.8 L119 854.8 L119.8 854.8 L120.5 854.8 L121.2 854.9 L122 854.9 L122.8 854.9 L123.5 854.9 L124.2 854.9 L125 855 L125.8 855 L126.5 855 L127.2 855 L128 855.1 L128.8 855.1 L129.5 855.1 L130.2 855.1 L131 855.1 L131.8 855.2 L132.5 855.2 L133.2 855.2 L134 855.2 L134.8 855.2 L135.5 855.3 L136.2 855.3 L137 855.3 L137.8 855.3 L138.5 855.4 L139.2 855.4 L140 855.4 L140.8 855.4 L141.5 855.4 L142.2 855.5 L143 855.5 L143.8 855.5 L144.5 855.5 L145.2 855.5 L146 855.6 L146.8 855.6 L147.5 855.6 L148.2 855.6 L149 855.7 L149.8 855.7 L150.5 855.7 L151.2 855.7 L152 855.7 L152.8 855.8 L153.5 855.8 L154.2 855.8 L155 855.8 L155.8 855.9 L156.5 855.9 L157.2 855.9 L158 855.9 L158.8 855.9 L159.5 856 L160.2 856 L161 856 L161.8 856 L162.5 856 L163.2 856.1 L164 856.1 L164.8 856.1 L165.5 856.1 L166.2 856.2 L167 856.2 L167.8 856.2 L168.5 856.2 L169.2 856.2 L170 856.3 L170.8 856.3 L171.5 856.3 L172.2 856.3 L173 856.3 L173.8 856.4 L174.5 856.4 L175.2 856.4 L176 856.4 L176.8 856.5 L177.5 856.5 L178.2 856.5 L179 856.5 L179.8 856.5 L180.5 856.6 L181.2 856.6 L182 856.6 L182.8 856.6 L183.5 856.6 L184.2 856.7 L185 856.7 L185.8 856.8 L186.5 856.8 L187.2 857 L188 857.2 L188.8 857.4 L189.5 857.7 L190.2 858 L191 858.3 L191.8 858.6 L192.5 858.9 L193.2 859.2 L194 859.5 L194.8 859.8 L195.5 860 L196.2 860.1 L197 860.2 L197.8 860.2 L198.5 860.1 L199.2 859.9 L200 859.6 L200.8 859.3 L201.5 858.9 L202.2 858.4 L203 857.9 L203.8 857.2 L204.5 856.6 L205.2 855.8 L206 855 L206.8 854.2 L207.5 853.3 L208.2 852.3 L209 851.3 L209.8 850.2 L210.5 849.1 L211.2 848 L212 846.8 L212.8 845.6 L213.5 844.4 L214.2 843.1 L215 841.9 L215.8 840.6 L216.5 839.3 L217.2 838 L218 836.7 L218.8 835.4 L219.5 834.1 L220.2 832.8 L221 831.6 L221.8 830.3 L222.5 829.1 L223.2 827.9 L224 826.8 L224.8 825.6 L225.5 824.6 L226.2 823.5 L227 822.5 L227.8 821.6 L228.5 820.7 L229.2 819.9 L230 819.1 L230.8 818.4 L231.5 817.8 L232.2 817.2 L233 816.7 L233.8 816.3 L234.5 816 L235.2 816 L236 816.3 L236.8 816.8 L237.5 817.3 L238.2 817.9 L239 818.4 L239.8 818.9 L240.5 819.4 L241.2 819.9 L242 820.4 L242.8 821 L243.5 821.5 L244.2 822 L245 822.5 L245.8 823 L246.5 823.5 L247.2 824 L248 824.6 L248.8 825.1 L249.5 825.6 L250.2 826.1 L251 826.6 L251.8 827.1 L252.5 827.6 L253.2 828.2 L254 828.7 L254.8 829.2 L255.5 829.7 L256.2 830.2 L257 830.7 L257.8 831.3 L258.5 831.8 L259.2 832.3 L260 832.8 L260.8 833.3 L261.5 833.8 L262.2 834.3 L263 834.9 L263.8 835.4 L264.5 835.9 L265.2 836.4 L266 836.9 L266.8 837.4 L267.5 837.9 L268.2 838.5 L269 839 L269.8 839.5 L270.5 840 L271.2 840.5 L272 841 L272.8 841.6 L273.5 842.1 L274.2 842.6 L275 843.1 L275.8 843.6 L276.5 844.1 L277.2 844.6 L278 845.2 L278.8 845.7 L279.5 846.2 L280.2 846.7 L281 847.2 L281.8 847.7 L282.5 848.2 L283.2 848.8 L284 849.3 L284.8 849.8 L285.5 850.3 L286.2 850.8 L287 851.3 L287.8 851.9 L288.5 852.4 L289.2 852.9 L290 853.4 L290.8 853.9 L291.5 854.4 L292.2 854.9 L293 855.5 L293.8 856 L294.5 856.5 L295.2 857 L296 857.5 L296.8 858 L297.5 858.5 L298.2 859 L299 859.5 L299.8 859.8 L300.5 860 L301.2 860 L302 859.8 L302.8 859.5 L303.5 859 L304.2 858.4 L305 857.6 L305.8 856.7 L306.5 855.7 L307.2 854.5 L308 853.3 L308.8 851.9 L309.5 850.4 L310.2 848.9 L311 847.2 L311.8 845.5 L312.5 843.7 L313.2 841.9 L314 840.1 L314.8 838.2 L315.5 836.3 L316.2 834.4 L317 832.5 L317.8 830.7 L318.5 828.9 L319.2 827.1 L320 825.4 L320.8 823.7 L321.5 822.1 L322.2 820.7 L323 819.3 L323.8 818 L324.5 816.8 L325.2 815.8 L326 814.9 L326.8 814.1 L327.5 813.5 L328.2 813.3 L329 813.6 L329.8 814.2 L330.5 814.9 L331.2 815.6 L332 816.3 L332.8 817 L333.5 817.7 L334.2 818.4 L335 819.1 L335.8 819.8 L336.5 820.5 L337.2 821.2 L338 821.9 L338.8 822.6 L339.5 823.3 L340.2 824 L341 824.7 L341.8 825.4 L342.5 826.1 L343.2 826.8 L344 827.5 L344.8 828.1 L345.5 828.8 L346.2 829.5 L347 830.2 L347.8 830.9 L348.5 831.6 L349.2 832.3 L350 833 L350.8 833.7 L351.5 834.4 L352.2 835.1 L353 835.8 L353.8 836.5 L354.5 837.2 L355.2 837.9 L356 838.6 L356.8 839.3 L357.5 840 L358.2 840.7 L359 841.4 L359.8 842.1 L360.5 842.8 L361.2 843.5 L362 844.2 L362.8 844.9 L363.5 845.6 L364.2 846.3 L365 847 L365.8 847.7 L366.5 848.4 L367.2 849.1 L368 849.8 L368.8 850.5 L369.5 851.2 L370.2 851.9 L371 852.6 L371.8 853.3 L372.5 854 L373.2 854.6 L374 855.3 L374.8 856 L375.5 856.7 L376.2 857.4 L377 857.9 L377.8 858.3 L378.5 858.3 L379.2 858.1 L380 857.6 L380.8 856.8 L381.5 855.7 L382.2 854.3 L383 852.8 L383.8 851 L384.5 849 L385.2 846.8 L386 844.4 L386.8 842 L387.5 839.5 L388.2 836.9 L389 834.3 L389.8 831.7 L390.5 829.1 L391.2 826.7 L392 824.3 L392.8 822.1 L393.5 820 L394.2 818.2 L395 816.5 L395.8 815.1 L396.5 814 L397.2 813.3 L398 813.3 L398.8 813.9 L399.5 814.9 L400.2 815.9 L401 816.8 L401.8 817.8 L402.5 818.8 L403.2 819.8 L404 820.8 L404.8 821.7 L405.5 822.7 L406.2 823.7 L407 824.7 L407.8 825.7 L408.5 826.7 L409.2 827.6 L410 828.6 L410.8 829.6 L411.5 830.6 L412.2 831.6 L413 832.6 L413.8 833.5 L414.5 834.5 L415.2 835.5 L416 836.5 L416.8 837.5 L417.5 838.5 L418.2 839.4 L419 840.4 L419.8 841.4 L420.5 842.4 L421.2 843.4 L422 844.4 L422.8 845.3 L423.5 846.3 L424.2 847.3 L425 848.3 L425.8 849.3 L426.5 850.2 L427.2 851.2 L428 852.2 L428.8 853.2 L429.5 854.2 L430.2 855.2 L431 856.1 L431.8 857.1 L432.5 858.1 L433.2 859.1 L434 860.1 L434.8 861.1 L435.5 862 L436.2 863 L437 863.7 L437.8 864.2 L438.5 864.3 L439.2 864.2 L440 863.7 L440.8 863.1 L441.5 862.2 L442.2 861 L443 859.7 L443.8 858.1 L444.5 856.4 L445.2 854.5 L446 852.4 L446.8 850.2 L447.5 847.8 L448.2 845.3 L449 842.8 L449.8 840.1 L450.5 837.5 L451.2 834.8 L452 832.1 L452.8 829.4 L453.5 826.8 L454.2 824.2 L455 821.7 L455.8 819.3 L456.5 817.1 L457.2 815 L458 813 L458.8 811.3 L459.5 809.7 L460.2 808.3 L461 807.1 L461.8 806.3 L462.5 806 L463.2 806.6 L464 807.8 L464.8 809 L465.5 810.2 L466.2 811.4 L467 812.6 L467.8 813.9 L468.5 815.1 L469.2 816.3 L470 817.5 L470.8 818.7 L471.5 820 L472.2 821.2 L473 822.4 L473.8 823.6 L474.5 824.8 L475.2 826.1 L476 827.3 L476.8 828.5 L477.5 829.7 L478.2 830.9 L479 832.1 L479.8 833.4 L480.5 834.6 L481.2 835.8 L482 837 L482.8 838.2 L483.5 839.5 L484.2 840.7 L485 841.9 L485.8 843.1 L486.5 844.3 L487.2 845.6 L488 846.8 L488.8 848 L489.5 849.2 L490.2 850.4 L491 851.7 L491.8 852.9 L492.5 854.1 L493.2 855.3 L494 856.5 L494.8 857.8 L495.5 859 L496.2 860.2 L497 861.4 L497.8 862.6 L498.5 863.9 L499.2 865.1 L500 866.3 L500.8 867.5 L501.5 868.7 L502.2 869.9 L503 871.2 L503.8 872.3 L504.5 873.4 L505.2 874.1 L506 874.3 L506.8 874 L507.5 873.3 L508.2 872.1 L509 870.5 L509.8 868.5 L510.5 866 L511.2 863.1 L512 859.9 L512.8 856.5 L513.5 852.7 L514.2 848.7 L515 844.6 L515.8 840.3 L516.5 836 L517.2 831.7 L518 827.3 L518.8 823.1 L519.5 819 L520.2 815.1 L521 811.4 L521.8 808.1 L522.5 805 L523.2 802.3 L524 799.9 L524.8 798 L525.5 796.8 L526.2 796.6 L527 797.6 L527.8 799 L528.5 800.4 L529.2 801.9 L530 803.4 L530.8 804.9 L531.5 806.4 L532.2 807.9 L533 809.4 L533.8 810.9 L534.5 812.4 L535.2 813.9 L536 815.3 L536.8 816.8 L537.5 818.3 L538.2 819.8 L539 821.3 L539.8 822.8 L540.5 824.3 L541.2 825.8 L542 827.3 L542.8 828.8 L543.5 830.2 L544.2 831.7 L545 833.2 L545.8 834.7 L546.5 836.2 L547.2 837.7 L548 839.2 L548.8 840.7 L549.5 842.2 L550.2 843.7 L551 845.1 L551.8 846.6 L552.5 848.1 L553.2 849.6 L554 851.1 L554.8 852.6 L555.5 854.1 L556.2 855.6 L557 857.1 L557.8 858.6 L558.5 860 L559.2 861.5 L560 863 L560.8 864.5 L561.5 866 L562.2 867.5 L563 869 L563.8 870.5 L564.5 872 L565.2 873.5 L566 874.9 L566.8 876.4 L567.5 877.9 L568.2 879.2 L569 880.2 L569.8 880.7 L570.5 880.6 L571.2 880.1 L572 878.9 L572.8 877.3 L573.5 875.2 L574.2 872.7 L575 869.7 L575.8 866.3 L576.5 862.6 L577.2 858.5 L578 854.2 L578.8 849.7 L579.5 845 L580.2 840.1 L581 835.2 L581.8 830.3 L582.5 825.4 L583.2 820.7 L584 816 L584.8 811.6 L585.5 807.4 L586.2 803.5 L587 800 L587.8 796.8 L588.5 794 L589.2 791.7 L590 790 L590.8 789.3 L591.5 790 L592.2 791.6 L593 793.4 L593.8 795.2 L594.5 797 L595.2 798.7 L596 800.5 L596.8 802.3 L597.5 804.1 L598.2 805.9 L599 807.7 L599.8 809.5 L600.5 811.3 L601.2 813.1 L602 814.9 L602.8 816.7 L603.5 818.5 L604.2 820.3 L605 822.1 L605.8 823.9 L606.5 825.7 L607.2 827.5 L608 829.2 L608.8 831 L609.5 832.8 L610.2 834.6 L611 836.4 L611.8 838.2 L612.5 840 L613.2 841.8 L614 843.6 L614.8 845.4 L615.5 847.2 L616.2 849 L617 850.8 L617.8 852.6 L618.5 854.4 L619.2 856.2 L620 858 L620.8 859.8 L621.5 861.5 L622.2 863.3 L623 865.1 L623.8 866.9 L624.5 868.7 L625.2 870.5 L626 872.3 L626.8 874.1 L627.5 875.9 L628.2 877.7 L629 879.5 L629.8 881.3 L630.5 883.1 L631.2 884.9 L632 886.6 L632.8 888.1 L633.5 888.9 L634.2 888.7 L635 887.8 L635.8 886.5 L636.5 884.8 L637.2 882.3 L638 879 L638.8 875.3 L639.5 871.6 L640.2 868.1 L641 864.8 L641.8 861.5 L642.5 858.4 L643.2 855.5 L644 852.6 L644.8 849.9 L645.5 847.3 L646.2 844.8 L647 842.4 L647.8 840.2 L648.5 838 L649.2 835.9 L650 833.8 L650.8 831.9 L651.5 830.1 L652.2 828.3 L653 826.6 L653.8 825 L654.5 823.4 L655.2 821.9 L656 820.5 L656.8 819.1 L657.5 817.8 L658.2 816.5 L659 815.3 L659.8 814.2 L660.5 813.1 L661.2 812 L662 811 L662.8 810.1 L663.5 809.6 L664.2 809.8 L665 810.3 L665.8 810.9 L666.5 811.6 L667.2 812.2 L668 812.8 L668.8 813.5 L669.5 814.1 L670.2 814.7 L671 815.3 L671.8 816 L672.5 816.6 L673.2 817.2 L674 817.8 L674.8 818.5 L675.5 819.1 L676.2 819.7 L677 820.3 L677.8 821 L678.5 821.6 L679.2 822.2 L680 822.8 L680.8 823.5 L681.5 824.1 L682.2 824.7 L683 825.3 L683.8 826 L684.5 826.6 L685.2 827.2 L686 827.8 L686.8 828.5 L687.5 829.1 L688.2 829.7 L689 830.3 L689.8 831 L690.5 831.6 L691.2 832.2 L692 832.8 L692.8 833.5 L693.5 834.1 L694.2 834.7 L695 835.3 L695.8 836 L696.5 836.6 L697.2 837.2 L698 837.8 L698.8 838.5 L699.5 839.1 L700.2 839.7 L701 840.3 L701.8 841 L702.5 841.6 L703.2 842.2 L704 842.8 L704.8 843.5 L705.5 844.1 L706.2 844.7 L707 845.3 L707.8 846 L708.5 846.6 L709.2 847.2 L710 847.8 L710.8 848.5 L711.5 849.1 L712.2 849.7 L713 850.3 L713.8 851 L714.5 851.6 L715.2 852.2 L716 852.8 L716.8 853.5 L717.5 854.1 L718.2 854.7 L719 855.3 L719.8 856 L720.5 856.6 L721.2 857.2 L722 857.8 L722.8 858.3 L723.5 858.7 L724.2 858.8 L725 858.7 L725.8 858.5 L726.5 858.1 L727.2 857.5 L728 856.8 L728.8 855.9 L729.5 854.9 L730.2 853.8 L731 852.5 L731.8 851.2 L732.5 849.7 L733.2 848.1 L734 846.4 L734.8 844.7 L735.5 842.9 L736.2 841.1 L737 839.2 L737.8 837.3 L738.5 835.3 L739.2 833.4 L740 831.5 L740.8 829.6 L741.5 827.8 L742.2 826 L743 824.3 L743.8 822.7 L744.5 821.1 L745.2 819.7 L746 818.4 L746.8 817.2 L747.5 816.1 L748.2 815.1 L749 814.3 L749.8 813.7 L750.5 813.2 L751.2 812.8 L752 812.6 L752.8 812.6 L753.5 812.6 L754.2 812.7 L755 812.7 L755.8 812.8 L756.5 812.9 L757.2 813.1 L758 813.4 L758.8 814 L759.5 814.6 L760.2 815.1 L761 815.7 L761.8 816.3 L762.5 816.9 L763.2 817.5 L764 818.1 L764.8 818.7 L765.5 819.3 L766.2 819.9 L767 820.5 L767.8 821 L768.5 821.6 L769.2 822.2 L770 822.8 L770.8 823.4 L771.5 824 L772.2 824.6 L773 825.2 L773.8 825.8 L774.5 826.4 L775.2 826.9 L776 827.5 L776.8 828.1 L777.5 828.7 L778.2 829.3 L779 829.9 L779.8 830.5 L780.5 831.1 L781.2 831.7 L782 832.2 L782.8 832.8 L783.5 833.4 L784.2 834 L785 834.6 L785.8 835.2 L786.5 835.8 L787.2 836.4 L788 837 L788.8 837.6 L789.5 838.1 L790.2 838.7 L791 839.3 L791.8 839.9 L792.5 840.5 L793.2 841.1 L794 841.7 L794.8 842.3 L795.5 842.9 L796.2 843.5 L797 844 L797.8 844.6 L798.5 845.2 L799.2 845.8 L800 846.4 L800.8 847 L801.5 847.6 L802.2 848.2 L803 848.8 L803.8 849.4 L804.5 849.9 L805.2 850.5 L806 851.1 L806.8 851.7 L807.5 852.3 L808.2 852.9 L809 853.5 L809.8 854.1 L810.5 854.7 L811.2 855.3 L812 855.8 L812.8 856.4 L813.5 857 L814.2 857.6 L815 858.2 L815.8 858.8 L816.5 859.4 L817.2 859.9 L818 860.3 L818.8 860.5 L819.5 860.5 L820.2 860.1 L821 859.4 L821.8 858.3 L822.5 857.1 L823.2 855.5 L824 853.9 L824.8 852.1 L825.5 850.3 L826.2 848.5 L827 846.9 L827.8 845.4 L828.5 844.1 L829.2 843.2 L830 842.6" fill="none" stroke="#b2b2b2" stroke-width="1.7" stroke-linejoin="round" stroke-linecap="round" />
<path d="M57.5 727 L58.2 726.5 L59 725.9 L59.8 725.2 L60.5 724.6 L61.2 723.9 L62 723.2 L62.8 722.5 L63.5 721.9 L64.2 721.2 L65 720.6 L65.8 720 L66.5 719.3 L67.2 718.7 L68 718.1 L68.8 717.6 L69.5 717 L70.2 716.4 L71 715.9 L71.8 715.4 L72.5 714.9 L73.2 714.4 L74 714 L74.8 713.6 L75.5 713.2 L76.2 712.8 L77 712.4 L77.8 712.1 L78.5 711.8 L79.2 711.5 L80 711.2 L80.8 711 L81.5 710.7 L82.2 710.6 L83 710.4 L83.8 710.3 L84.5 710.2 L85.2 710.1 L86 710 L86.8 710 L87.5 710 L88.2 710 L89 710 L89.8 710 L90.5 710 L91.2 710 L92 710 L92.8 710 L93.5 710 L94.2 710 L95 710 L95.8 710 L96.5 710 L97.2 710 L98 710 L98.8 710 L99.5 710 L100.2 710 L101 710 L101.8 710 L102.5 710 L103.2 710 L104 710 L104.8 710 L105.5 710 L106.2 710 L107 710 L107.8 709.9 L108.5 709.9 L109.2 709.9 L110 709.9 L110.8 709.9 L111.5 709.9 L112.2 709.9 L113 709.9 L113.8 709.9 L114.5 709.9 L115.2 709.9 L116 709.9 L116.8 709.9 L117.5 709.9 L118.2 709.9 L119 709.9 L119.8 709.9 L120.5 709.9 L121.2 709.9 L122 709.9 L122.8 709.9 L123.5 709.9 L124.2 709.9 L125 709.9 L125.8 709.9 L126.5 709.9 L127.2 709.9 L128 709.9 L128.8 709.9 L129.5 709.9 L130.2 709.9 L131 709.9 L131.8 709.9 L132.5 709.9 L133.2 709.9 L134 709.9 L134.8 709.9 L135.5 709.9 L136.2 709.9 L137 709.9 L137.8 709.9 L138.5 709.9 L139.2 709.9 L140 709.9 L140.8 709.9 L141.5 709.9 L142.2 709.9 L143 709.9 L143.8 709.9 L144.5 709.9 L145.2 709.9 L146 709.9 L146.8 709.9 L147.5 709.9 L148.2 709.9 L149 709.9 L149.8 709.9 L150.5 709.9 L151.2 709.9 L152 709.9 L152.8 709.9 L153.5 709.9 L154.2 709.9 L155 709.9 L155.8 709.9 L156.5 709.9 L157.2 709.9 L158 709.9 L158.8 709.9 L159.5 709.9 L160.2 709.9 L161 709.9 L161.8 709.9 L162.5 709.9 L163.2 709.9 L164 709.9 L164.8 709.8 L165.5 709.8 L166.2 709.8 L167 709.8 L167.8 709.8 L168.5 709.8 L169.2 709.8 L170 709.8 L170.8 709.8 L171.5 709.8 L172.2 709.8 L173 709.8 L173.8 709.8 L174.5 709.8 L175.2 709.8 L176 709.8 L176.8 709.8 L177.5 709.8 L178.2 709.8 L179 709.8 L179.8 709.8 L180.5 709.8 L181.2 709.8 L182 709.8 L182.8 709.8 L183.5 709.8 L184.2 709.9 L185 710 L185.8 710.3 L186.5 710.6 L187.2 711.1 L188 711.5 L188.8 711.9 L189.5 712.3 L190.2 712.7 L191 713.1 L191.8 713.5 L192.5 714 L193.2 714.4 L194 714.8 L194.8 715.2 L195.5 715.6 L196.2 716 L197 716.4 L197.8 716.8 L198.5 717.3 L199.2 717.7 L200 718.1 L200.8 718.5 L201.5 718.9 L202.2 719.3 L203 719.7 L203.8 720.2 L204.5 720.6 L205.2 721 L206 721.4 L206.8 721.8 L207.5 722.2 L208.2 722.6 L209 723.1 L209.8 723.5 L210.5 723.9 L211.2 724.3 L212 724.7 L212.8 725.1 L213.5 725.5 L214.2 725.9 L215 726.4 L215.8 726.8 L216.5 727.2 L217.2 727.6 L218 728 L218.8 728.4 L219.5 728.8 L220.2 729.3 L221 729.7 L221.8 730.1 L222.5 730.5 L223.2 730.9 L224 731.3 L224.8 731.7 L225.5 732.2 L226.2 732.6 L227 733 L227.8 733.4 L228.5 733.8 L229.2 734.2 L230 734.6 L230.8 735.1 L231.5 735.5 L232.2 735.9 L233 736.3 L233.8 736.7 L234.5 737.1 L235.2 737.5 L236 737.9 L236.8 738.4 L237.5 738.8 L238.2 739.2 L239 739.6 L239.8 740 L240.5 740.4 L241.2 740.8 L242 741.3 L242.8 741.7 L243.5 742.1 L244.2 742.5 L245 742.9 L245.8 743.3 L246.5 743.7 L247.2 744.2 L248 744.6 L248.8 745 L249.5 745.4 L250.2 745.8 L251 746.2 L251.8 746.6 L252.5 747 L253.2 747.4 L254 747.8 L254.8 748.1 L255.5 748.4 L256.2 748.7 L257 748.9 L257.8 749.1 L258.5 749.2 L259.2 749.3 L260 749.3 L260.8 749.2 L261.5 749 L262.2 748.6 L263 748.1 L263.8 747.5 L264.5 746.8 L265.2 745.9 L266 744.9 L266.8 743.8 L267.5 742.6 L268.2 741.2 L269 739.8 L269.8 738.3 L270.5 736.7 L271.2 735.1 L272 733.4 L272.8 731.7 L273.5 729.9 L274.2 728.1 L275 726.3 L275.8 724.4 L276.5 722.6 L277.2 720.8 L278 719.1 L278.8 717.4 L279.5 715.7 L280.2 714.1 L281 712.5 L281.8 711.1 L282.5 709.7 L283.2 708.4 L284 707.2 L284.8 706.2 L285.5 705.2 L286.2 704.4 L287 703.7 L287.8 703.3 L288.5 703.3 L289.2 703.6 L290 704.2 L290.8 704.9 L291.5 705.5 L292.2 706.2 L293 706.9 L293.8 707.5 L294.5 708.2 L295.2 708.9 L296 709.6 L296.8 710.2 L297.5 710.9 L298.2 711.6 L299 712.2 L299.8 712.9 L300.5 713.6 L301.2 714.2 L302 714.9 L302.8 715.6 L303.5 716.3 L304.2 716.9 L305 717.6 L305.8 718.3 L306.5 718.9 L307.2 719.6 L308 720.3 L308.8 720.9 L309.5 721.6 L310.2 722.3 L311 723 L311.8 723.6 L312.5 724.3 L313.2 725 L314 725.6 L314.8 726.3 L315.5 727 L316.2 727.6 L317 728.3 L317.8 729 L318.5 729.6 L319.2 730.3 L320 731 L320.8 731.7 L321.5 732.3 L322.2 733 L323 733.7 L323.8 734.3 L324.5 735 L325.2 735.7 L326 736.3 L326.8 737 L327.5 737.7 L328.2 738.4 L329 739 L329.8 739.7 L330.5 740.4 L331.2 741 L332 741.7 L332.8 742.4 L333.5 743 L334.2 743.7 L335 744.4 L335.8 745.1 L336.5 745.7 L337.2 746.4 L338 747.1 L338.8 747.7 L339.5 748.3 L340.2 748.9 L341 749.4 L341.8 749.7 L342.5 750 L343.2 750 L344 749.9 L344.8 749.5 L345.5 749 L346.2 748.2 L347 747.2 L347.8 746 L348.5 744.6 L349.2 743 L350 741.3 L350.8 739.4 L351.5 737.4 L352.2 735.3 L353 733 L353.8 730.8 L354.5 728.4 L355.2 726.1 L356 723.7 L356.8 721.4 L357.5 719.1 L358.2 716.8 L359 714.7 L359.8 712.6 L360.5 710.7 L361.2 708.9 L362 707.3 L362.8 705.9 L363.5 704.6 L364.2 703.6 L365 702.9 L365.8 702.7 L366.5 703 L367.2 703.7 L368 704.6 L368.8 705.4 L369.5 706.2 L370.2 707.1 L371 707.9 L371.8 708.8 L372.5 709.6 L373.2 710.5 L374 711.3 L374.8 712.2 L375.5 713 L376.2 713.9 L377 714.7 L377.8 715.6 L378.5 716.4 L379.2 717.3 L380 718.1 L380.8 719 L381.5 719.8 L382.2 720.7 L383 721.5 L383.8 722.4 L384.5 723.2 L385.2 724.1 L386 724.9 L386.8 725.8 L387.5 726.6 L388.2 727.5 L389 728.3 L389.8 729.1 L390.5 730 L391.2 730.8 L392 731.7 L392.8 732.5 L393.5 733.4 L394.2 734.2 L395 735.1 L395.8 735.9 L396.5 736.8 L397.2 737.6 L398 738.5 L398.8 739.3 L399.5 740.2 L400.2 741 L401 741.9 L401.8 742.7 L402.5 743.6 L403.2 744.4 L404 745.3 L404.8 746.1 L405.5 747 L406.2 747.8 L407 748.7 L407.8 749.5 L408.5 750.3 L409.2 751.1 L410 751.7 L410.8 752.3 L411.5 752.6 L412.2 752.8 L413 752.6 L413.8 752.2 L414.5 751.3 L415.2 749.9 L416 748.2 L416.8 746.1 L417.5 743.6 L418.2 740.7 L419 737.7 L419.8 734.4 L420.5 730.9 L421.2 727.3 L422 723.7 L422.8 720.1 L423.5 716.6 L424.2 713.2 L425 710.1 L425.8 707.1 L426.5 704.5 L427.2 702.2 L428 700.3 L428.8 698.9 L429.5 698.3 L430.2 698.5 L431 699.3 L431.8 700.3 L432.5 701.4 L433.2 702.5 L434 703.6 L434.8 704.8 L435.5 705.9 L436.2 707 L437 708.1 L437.8 709.2 L438.5 710.3 L439.2 711.4 L440 712.5 L440.8 713.6 L441.5 714.7 L442.2 715.8 L443 716.9 L443.8 718.1 L444.5 719.2 L445.2 720.3 L446 721.4 L446.8 722.5 L447.5 723.6 L448.2 724.7 L449 725.8 L449.8 726.9 L450.5 728 L451.2 729.1 L452 730.2 L452.8 731.4 L453.5 732.5 L454.2 733.6 L455 734.7 L455.8 735.8 L456.5 736.9 L457.2 738 L458 739.1 L458.8 740.2 L459.5 741.3 L460.2 742.4 L461 743.5 L461.8 744.7 L462.5 745.8 L463.2 746.9 L464 748 L464.8 749.1 L465.5 750.2 L466.2 751.3 L467 752.4 L467.8 753.5 L468.5 754.6 L469.2 755.7 L470 756.8 L470.8 757.9 L471.5 759 L472.2 760 L473 761 L473.8 761.7 L474.5 762.3 L475.2 762.7 L476 762.7 L476.8 762.4 L477.5 761.6 L478.2 760.4 L479 758.8 L479.8 756.7 L480.5 754.3 L481.2 751.4 L482 748.3 L482.8 744.8 L483.5 741.1 L484.2 737.2 L485 733.2 L485.8 729.1 L486.5 724.9 L487.2 720.8 L488 716.7 L488.8 712.8 L489.5 709 L490.2 705.5 L491 702.3 L491.8 699.4 L492.5 696.8 L493.2 694.7 L494 693.1 L494.8 692.3 L495.5 692.4 L496.2 693.3 L497 694.6 L497.8 696 L498.5 697.4 L499.2 698.8 L500 700.2 L500.8 701.7 L501.5 703.1 L502.2 704.5 L503 705.9 L503.8 707.3 L504.5 708.7 L505.2 710.1 L506 711.6 L506.8 713 L507.5 714.4 L508.2 715.8 L509 717.2 L509.8 718.6 L510.5 720 L511.2 721.4 L512 722.9 L512.8 724.3 L513.5 725.7 L514.2 727.1 L515 728.5 L515.8 729.9 L516.5 731.3 L517.2 732.7 L518 734.2 L518.8 735.6 L519.5 737 L520.2 738.4 L521 739.8 L521.8 741.2 L522.5 742.6 L523.2 744 L524 745.5 L524.8 746.9 L525.5 748.3 L526.2 749.7 L527 751.1 L527.8 752.5 L528.5 753.9 L529.2 755.4 L530 756.8 L530.8 758.2 L531.5 759.6 L532.2 761 L533 762.4 L533.8 763.8 L534.5 765.2 L535.2 766.6 L536 768 L536.8 769.2 L537.5 770.2 L538.2 771.1 L539 771.6 L539.8 771.8 L540.5 771.5 L541.2 770.8 L542 769.4 L542.8 767.5 L543.5 765.1 L544.2 762.1 L545 758.6 L545.8 754.7 L546.5 750.4 L547.2 745.8 L548 740.9 L548.8 735.8 L549.5 730.5 L550.2 725.2 L551 719.9 L551.8 714.7 L552.5 709.6 L553.2 704.7 L554 700.1 L554.8 695.8 L555.5 692 L556.2 688.5 L557 685.6 L557.8 683.3 L558.5 681.9 L559.2 681.6 L560 682.4 L560.8 683.9 L561.5 685.6 L562.2 687.3 L563 689 L563.8 690.8 L564.5 692.5 L565.2 694.2 L566 695.9 L566.8 697.6 L567.5 699.3 L568.2 701.1 L569 702.8 L569.8 704.5 L570.5 706.2 L571.2 707.9 L572 709.7 L572.8 711.4 L573.5 713.1 L574.2 714.8 L575 716.5 L575.8 718.2 L576.5 720 L577.2 721.7 L578 723.4 L578.8 725.1 L579.5 726.8 L580.2 728.6 L581 730.3 L581.8 732 L582.5 733.7 L583.2 735.4 L584 737.1 L584.8 738.9 L585.5 740.6 L586.2 742.3 L587 744 L587.8 745.7 L588.5 747.5 L589.2 749.2 L590 750.9 L590.8 752.6 L591.5 754.3 L592.2 756.1 L593 757.8 L593.8 759.5 L594.5 761.2 L595.2 762.9 L596 764.6 L596.8 766.4 L597.5 768.1 L598.2 769.8 L599 771.5 L599.8 773.2 L600.5 774.8 L601.2 776.2 L602 777.4 L602.8 778.4 L603.5 778.9 L604.2 779 L605 778.6 L605.8 777.5 L606.5 775.8 L607.2 773.5 L608 770.5 L608.8 766.9 L609.5 762.8 L610.2 758.1 L611 753.1 L611.8 747.6 L612.5 741.9 L613.2 735.9 L614 729.8 L614.8 723.7 L615.5 717.5 L616.2 711.4 L617 705.6 L617.8 699.9 L618.5 694.6 L619.2 689.7 L620 685.2 L620.8 681.2 L621.5 677.9 L622.2 675.2 L623 673.5 L623.8 673.2 L624.5 674.1 L625.2 675.7 L626 677.6 L626.8 679.4 L627.5 681.3 L628.2 683.2 L629 685.1 L629.8 687 L630.5 688.9 L631.2 690.8 L632 692.7 L632.8 694.6 L633.5 696.5 L634.2 698.3 L635 700.2 L635.8 701.9 L636.5 703.4 L637.2 704.9 L638 706.3 L638.8 707.7 L639.5 709.1 L640.2 710.4 L641 711.7 L641.8 712.9 L642.5 714.2 L643.2 715.4 L644 716.6 L644.8 717.7 L645.5 718.8 L646.2 719.9 L647 721 L647.8 722 L648.5 723 L649.2 724 L650 725 L650.8 726 L651.5 726.9 L652.2 727.8 L653 728.7 L653.8 729.5 L654.5 730.4 L655.2 731.2 L656 732 L656.8 732.8 L657.5 733.5 L658.2 734.3 L659 735 L659.8 735.7 L660.5 736.4 L661.2 737.1 L662 737.8 L662.8 738.4 L663.5 739.1 L664.2 739.7 L665 740.3 L665.8 740.9 L666.5 741.5 L667.2 742 L668 742.6 L668.8 743.1 L669.5 743.6 L670.2 744.1 L671 744.6 L671.8 745.1 L672.5 745.6 L673.2 746.1 L674 746.5 L674.8 747 L675.5 747.4 L676.2 747.8 L677 748.2 L677.8 748.6 L678.5 749 L679.2 749.4 L680 749.8 L680.8 750.2 L681.5 750.5 L682.2 750.8 L683 751 L683.8 751 L684.5 750.7 L685.2 750.3 L686 749.8 L686.8 749.1 L687.5 748.2 L688.2 747.2 L689 746.1 L689.8 744.8 L690.5 743.4 L691.2 741.9 L692 740.3 L692.8 738.6 L693.5 736.8 L694.2 734.9 L695 733 L695.8 731 L696.5 729.1 L697.2 727 L698 725 L698.8 723 L699.5 721 L700.2 719 L701 717.1 L701.8 715.3 L702.5 713.5 L703.2 711.7 L704 710.1 L704.8 708.6 L705.5 707.2 L706.2 705.9 L707 704.7 L707.8 703.7 L708.5 702.8 L709.2 702.2 L710 701.8 L710.8 701.8 L711.5 702.2 L712.2 702.7 L713 703.3 L713.8 703.9 L714.5 704.6 L715.2 705.2 L716 705.8 L716.8 706.4 L717.5 707 L718.2 707.6 L719 708.2 L719.8 708.8 L720.5 709.4 L721.2 710 L722 710.6 L722.8 711.2 L723.5 711.8 L724.2 712.4 L725 713 L725.8 713.6 L726.5 714.3 L727.2 714.9 L728 715.5 L728.8 716.1 L729.5 716.7 L730.2 717.3 L731 717.9 L731.8 718.5 L732.5 719.1 L733.2 719.7 L734 720.3 L734.8 720.9 L735.5 721.5 L736.2 722.1 L737 722.7 L737.8 723.3 L738.5 724 L739.2 724.6 L740 725.2 L740.8 725.8 L741.5 726.4 L742.2 727 L743 727.6 L743.8 728.2 L744.5 728.8 L745.2 729.4 L746 730 L746.8 730.6 L747.5 731.2 L748.2 731.8 L749 732.4 L749.8 733 L750.5 733.7 L751.2 734.3 L752 734.9 L752.8 735.5 L753.5 736.1 L754.2 736.7 L755 737.3 L755.8 737.9 L756.5 738.5 L757.2 739.1 L758 739.7 L758.8 740.3 L759.5 740.9 L760.2 741.5 L761 742.1 L761.8 742.7 L762.5 743.4 L763.2 744 L764 744.6 L764.8 745.2 L765.5 745.8 L766.2 746.4 L767 747 L767.8 747.6 L768.5 748.1 L769.2 748.7 L770 749.1 L770.8 749.6 L771.5 749.9 L772.2 750.2 L773 750.4 L773.8 750.5 L774.5 750.5 L775.2 750.4 L776 750.1 L776.8 749.6 L777.5 749 L778.2 748.2 L779 747.3 L779.8 746.2 L780.5 745 L781.2 743.7 L782 742.2 L782.8 740.6 L783.5 739 L784.2 737.2 L785 735.4 L785.8 733.5 L786.5 731.5 L787.2 729.5 L788 727.5 L788.8 725.5 L789.5 723.5 L790.2 721.6 L791 719.7 L791.8 717.8 L792.5 716 L793.2 714.3 L794 712.6 L794.8 711.1 L795.5 709.7 L796.2 708.4 L797 707.3 L797.8 706.2 L798.5 705.4 L799.2 704.7 L800 704.2 L800.8 703.8 L801.5 703.6 L802.2 703.5 L803 703.5 L803.8 703.5 L804.5 703.6 L805.2 703.7 L806 703.9 L806.8 704.1 L807.5 704.3 L808.2 704.6 L809 704.9 L809.8 705.2 L810.5 705.5 L811.2 705.9 L812 706.3 L812.8 706.8 L813.5 707.2 L814.2 707.7 L815 708.2 L815.8 708.8 L816.5 709.3 L817.2 709.9 L818 710.5 L818.8 711.2 L819.5 711.8 L820.2 712.5 L821 713.2 L821.8 713.9 L822.5 714.6 L823.2 715.3 L824 716.1 L824.8 716.8 L825.5 717.6 L826.2 718.4 L827 719.2 L827.8 720 L828.5 720.7 L829.2 721.5 L830 722" fill="none" stroke="#333" stroke-width="1.9" stroke-linejoin="round" stroke-linecap="round" />
<path d="M57.5 304 L58.2 303.5 L59 302.7 L59.8 301.9 L60.5 301.1 L61.2 300.3 L62 299.4 L62.8 298.6 L63.5 297.8 L64.2 297 L65 296.2 L65.8 295.3 L66.5 294.5 L67.2 293.7 L68 292.9 L68.8 292.1 L69.5 291.3 L70.2 290.4 L71 289.6 L71.8 288.8 L72.5 288 L73.2 287.2 L74 286.7 L74.8 286.4 L75.5 286.3 L76.2 286.3 L77 286.3 L77.8 286.3 L78.5 286.3 L79.2 286.3 L80 286.3 L80.8 286.3 L81.5 286.3 L82.2 286.3 L83 286.3 L83.8 286.3 L84.5 286.3 L85.2 286.3 L86 286.3 L86.8 286.3 L87.5 286.4 L88.2 286.4 L89 286.4 L89.8 286.4 L90.5 286.4 L91.2 286.4 L92 286.4 L92.8 286.4 L93.5 286.4 L94.2 286.4 L95 286.4 L95.8 286.4 L96.5 286.4 L97.2 286.4 L98 286.4 L98.8 286.4 L99.5 286.4 L100.2 286.4 L101 286.4 L101.8 286.4 L102.5 286.4 L103.2 286.4 L104 286.4 L104.8 286.4 L105.5 286.4 L106.2 286.4 L107 286.4 L107.8 286.4 L108.5 286.4 L109.2 286.4 L110 286.4 L110.8 286.4 L111.5 286.4 L112.2 286.4 L113 286.4 L113.8 286.4 L114.5 286.4 L115.2 286.4 L116 286.4 L116.8 286.4 L117.5 286.4 L118.2 286.4 L119 286.4 L119.8 286.4 L120.5 286.4 L121.2 286.4 L122 286.4 L122.8 286.4 L123.5 286.4 L124.2 286.4 L125 286.4 L125.8 286.4 L126.5 286.4 L127.2 286.4 L128 286.4 L128.8 286.4 L129.5 286.4 L130.2 286.4 L131 286.4 L131.8 286.4 L132.5 286.4 L133.2 286.4 L134 286.4 L134.8 286.4 L135.5 286.4 L136.2 286.4 L137 286.4 L137.8 286.4 L138.5 286.4 L139.2 286.4 L140 286.4 L140.8 286.4 L141.5 286.4 L142.2 286.4 L143 286.4 L143.8 286.4 L144.5 286.4 L145.2 286.4 L146 286.4 L146.8 286.4 L147.5 286.4 L148.2 286.4 L149 286.4 L149.8 286.4 L150.5 286.4 L151.2 286.4 L152 286.4 L152.8 286.4 L153.5 286.4 L154.2 286.5 L155 286.5 L155.8 286.5 L156.5 286.5 L157.2 286.5 L158 286.5 L158.8 286.5 L159.5 286.5 L160.2 286.5 L161 286.5 L161.8 286.5 L162.5 286.5 L163.2 286.5 L164 286.5 L164.8 286.5 L165.5 286.5 L166.2 286.5 L167 286.5 L167.8 286.5 L168.5 286.5 L169.2 286.5 L170 286.5 L170.8 286.5 L171.5 286.5 L172.2 286.5 L173 286.5 L173.8 286.5 L174.5 286.5 L175.2 286.5 L176 286.5 L176.8 286.5 L177.5 286.5 L178.2 286.5 L179 286.5 L179.8 286.5 L180.5 286.5 L181.2 286.5 L182 286.5 L182.8 286.5 L183.5 286.5 L184.2 286.5 L185 286.7 L185.8 287 L186.5 287.4 L187.2 287.9 L188 288.3 L188.8 288.8 L189.5 289.2 L190.2 289.7 L191 290.1 L191.8 290.6 L192.5 291 L193.2 291.5 L194 291.9 L194.8 292.4 L195.5 292.8 L196.2 293.3 L197 293.7 L197.8 294.2 L198.5 294.6 L199.2 295.1 L200 295.5 L200.8 296 L201.5 296.4 L202.2 296.9 L203 297.3 L203.8 297.8 L204.5 298.3 L205.2 298.7 L206 299.2 L206.8 299.6 L207.5 300.1 L208.2 300.5 L209 301 L209.8 301.4 L210.5 301.9 L211.2 302.3 L212 302.8 L212.8 303.2 L213.5 303.7 L214.2 304.1 L215 304.6 L215.8 305 L216.5 305.5 L217.2 305.9 L218 306.4 L218.8 306.8 L219.5 307.3 L220.2 307.7 L221 308.2 L221.8 308.7 L222.5 309.1 L223.2 309.6 L224 310 L224.8 310.5 L225.5 310.9 L226.2 311.4 L227 311.8 L227.8 312.3 L228.5 312.7 L229.2 313.2 L230 313.6 L230.8 314.1 L231.5 314.5 L232.2 315 L233 315.4 L233.8 315.9 L234.5 316.3 L235.2 316.8 L236 317.2 L236.8 317.7 L237.5 318.1 L238.2 318.6 L239 319 L239.8 319.5 L240.5 320 L241.2 320.4 L242 320.9 L242.8 321.3 L243.5 321.8 L244.2 322.2 L245 322.7 L245.8 323.1 L246.5 323.6 L247.2 324 L248 324.5 L248.8 324.9 L249.5 325.4 L250.2 325.8 L251 326.3 L251.8 326.7 L252.5 327.2 L253.2 327.6 L254 327.9 L254.8 328.2 L255.5 328.3 L256.2 328.3 L257 328.2 L257.8 328 L258.5 327.6 L259.2 327.2 L260 326.6 L260.8 325.9 L261.5 325.1 L262.2 324.2 L263 323.2 L263.8 322.1 L264.5 320.9 L265.2 319.7 L266 318.3 L266.8 316.9 L267.5 315.4 L268.2 313.8 L269 312.2 L269.8 310.6 L270.5 308.9 L271.2 307.2 L272 305.5 L272.8 303.8 L273.5 302 L274.2 300.3 L275 298.6 L275.8 296.9 L276.5 295.3 L277.2 293.7 L278 292.1 L278.8 290.6 L279.5 289.2 L280.2 287.8 L281 286.5 L281.8 285.3 L282.5 284.2 L283.2 283.2 L284 282.2 L284.8 281.4 L285.5 280.7 L286.2 280.2 L287 279.9 L287.8 280.1 L288.5 280.6 L289.2 281.2 L290 281.9 L290.8 282.6 L291.5 283.4 L292.2 284.1 L293 284.8 L293.8 285.5 L294.5 286.2 L295.2 286.9 L296 287.7 L296.8 288.4 L297.5 289.1 L298.2 289.8 L299 290.5 L299.8 291.2 L300.5 291.9 L301.2 292.7 L302 293.4 L302.8 294.1 L303.5 294.8 L304.2 295.5 L305 296.2 L305.8 296.9 L306.5 297.7 L307.2 298.4 L308 299.1 L308.8 299.8 L309.5 300.5 L310.2 301.2 L311 302 L311.8 302.7 L312.5 303.4 L313.2 304.1 L314 304.8 L314.8 305.5 L315.5 306.2 L316.2 307 L317 307.7 L317.8 308.4 L318.5 309.1 L319.2 309.8 L320 310.5 L320.8 311.2 L321.5 312 L322.2 312.7 L323 313.4 L323.8 314.1 L324.5 314.8 L325.2 315.5 L326 316.3 L326.8 317 L327.5 317.7 L328.2 318.4 L329 319.1 L329.8 319.8 L330.5 320.5 L331.2 321.3 L332 322 L332.8 322.7 L333.5 323.4 L334.2 324.1 L335 324.8 L335.8 325.5 L336.5 326.3 L337.2 327 L338 327.6 L338.8 328.2 L339.5 328.6 L340.2 328.9 L341 329 L341.8 328.9 L342.5 328.6 L343.2 328.1 L344 327.4 L344.8 326.5 L345.5 325.5 L346.2 324.2 L347 322.8 L347.8 321.3 L348.5 319.6 L349.2 317.8 L350 315.9 L350.8 313.9 L351.5 311.8 L352.2 309.6 L353 307.4 L353.8 305.1 L354.5 302.9 L355.2 300.6 L356 298.4 L356.8 296.2 L357.5 294.1 L358.2 292 L359 290.1 L359.8 288.2 L360.5 286.5 L361.2 284.9 L362 283.4 L362.8 282.1 L363.5 281 L364.2 280.1 L365 279.4 L365.8 279.3 L366.5 279.7 L367.2 280.5 L368 281.5 L368.8 282.4 L369.5 283.4 L370.2 284.3 L371 285.3 L371.8 286.3 L372.5 287.2 L373.2 288.2 L374 289.1 L374.8 290.1 L375.5 291.1 L376.2 292 L377 293 L377.8 293.9 L378.5 294.9 L379.2 295.9 L380 296.8 L380.8 297.8 L381.5 298.7 L382.2 299.7 L383 300.7 L383.8 301.6 L384.5 302.6 L385.2 303.5 L386 304.5 L386.8 305.5 L387.5 306.4 L388.2 307.4 L389 308.3 L389.8 309.3 L390.5 310.3 L391.2 311.2 L392 312.2 L392.8 313.1 L393.5 314.1 L394.2 315.1 L395 316 L395.8 317 L396.5 317.9 L397.2 318.9 L398 319.9 L398.8 320.8 L399.5 321.8 L400.2 322.7 L401 323.7 L401.8 324.6 L402.5 325.6 L403.2 326.6 L404 327.5 L404.8 328.4 L405.5 329.2 L406.2 329.9 L407 330.3 L407.8 330.5 L408.5 330.4 L409.2 330.1 L410 329.4 L410.8 328.5 L411.5 327.2 L412.2 325.7 L413 324 L413.8 322 L414.5 319.8 L415.2 317.4 L416 314.8 L416.8 312.1 L417.5 309.3 L418.2 306.4 L419 303.4 L419.8 300.4 L420.5 297.5 L421.2 294.5 L422 291.7 L422.8 288.9 L423.5 286.2 L424.2 283.8 L425 281.4 L425.8 279.3 L426.5 277.5 L427.2 275.9 L428 274.5 L428.8 273.6 L429.5 273.3 L430.2 273.8 L431 274.8 L431.8 276 L432.5 277.3 L433.2 278.5 L434 279.7 L434.8 281 L435.5 282.2 L436.2 283.5 L437 284.7 L437.8 285.9 L438.5 287.2 L439.2 288.4 L440 289.7 L440.8 290.9 L441.5 292.1 L442.2 293.4 L443 294.6 L443.8 295.9 L444.5 297.1 L445.2 298.3 L446 299.6 L446.8 300.8 L447.5 302.1 L448.2 303.3 L449 304.5 L449.8 305.8 L450.5 307 L451.2 308.3 L452 309.5 L452.8 310.7 L453.5 312 L454.2 313.2 L455 314.5 L455.8 315.7 L456.5 316.9 L457.2 318.2 L458 319.4 L458.8 320.7 L459.5 321.9 L460.2 323.1 L461 324.4 L461.8 325.6 L462.5 326.9 L463.2 328.1 L464 329.3 L464.8 330.6 L465.5 331.8 L466.2 333.1 L467 334.3 L467.8 335.5 L468.5 336.7 L469.2 337.7 L470 338.5 L470.8 339.1 L471.5 339.3 L472.2 339.2 L473 338.7 L473.8 337.9 L474.5 336.7 L475.2 335.1 L476 333.2 L476.8 330.9 L477.5 328.4 L478.2 325.6 L479 322.6 L479.8 319.3 L480.5 315.9 L481.2 312.3 L482 308.7 L482.8 304.9 L483.5 301.1 L484.2 297.4 L485 293.7 L485.8 290 L486.5 286.5 L487.2 283.2 L488 280 L488.8 277.1 L489.5 274.5 L490.2 272.1 L491 270 L491.8 268.3 L492.5 267.1 L493.2 266.7 L494 267.2 L494.8 268.4 L495.5 269.9 L496.2 271.4 L497 272.9 L497.8 274.4 L498.5 275.9 L499.2 277.4 L500 278.9 L500.8 280.4 L501.5 281.9 L502.2 283.4 L503 284.9 L503.8 286.4 L504.5 287.9 L505.2 289.4 L506 290.9 L506.8 292.4 L507.5 294 L508.2 295.5 L509 297 L509.8 298.5 L510.5 300 L511.2 301.5 L512 303 L512.8 304.5 L513.5 306 L514.2 307.5 L515 309 L515.8 310.5 L516.5 312 L517.2 313.5 L518 315.1 L518.8 316.6 L519.5 318.1 L520.2 319.6 L521 321.1 L521.8 322.6 L522.5 324.1 L523.2 325.6 L524 327.1 L524.8 328.6 L525.5 330.1 L526.2 331.6 L527 333.1 L527.8 334.6 L528.5 336.2 L529.2 337.7 L530 339.2 L530.8 340.7 L531.5 342.2 L532.2 343.7 L533 345.1 L533.8 346.5 L534.5 347.7 L535.2 348.6 L536 349.2 L536.8 349.3 L537.5 349 L538.2 348.2 L539 346.9 L539.8 345.2 L540.5 343 L541.2 340.4 L542 337.4 L542.8 334.1 L543.5 330.4 L544.2 326.4 L545 322.1 L545.8 317.7 L546.5 313 L547.2 308.3 L548 303.5 L548.8 298.7 L549.5 294 L550.2 289.3 L551 284.8 L551.8 280.5 L552.5 276.4 L553.2 272.5 L554 269 L554.8 265.9 L555.5 263.1 L556.2 260.8 L557 259.1 L557.8 258.2 L558.5 258.5 L559.2 259.7 L560 261.3 L560.8 263 L561.5 264.8 L562.2 266.5 L563 268.3 L563.8 270.1 L564.5 271.8 L565.2 273.6 L566 275.4 L566.8 277.1 L567.5 278.9 L568.2 280.6 L569 282.4 L569.8 284.2 L570.5 285.9 L571.2 287.7 L572 289.4 L572.8 291.2 L573.5 293 L574.2 294.7 L575 296.5 L575.8 298.2 L576.5 300 L577.2 301.8 L578 303.5 L578.8 305.3 L579.5 307.1 L580.2 308.8 L581 310.6 L581.8 312.3 L582.5 314.1 L583.2 315.9 L584 317.6 L584.8 319.4 L585.5 321.1 L586.2 322.9 L587 324.7 L587.8 326.4 L588.5 328.2 L589.2 329.9 L590 331.7 L590.8 333.5 L591.5 335.2 L592.2 337 L593 338.7 L593.8 340.5 L594.5 342.3 L595.2 344 L596 345.8 L596.8 347.6 L597.5 349.3 L598.2 351 L599 352.6 L599.8 354 L600.5 355.1 L601.2 355.8 L602 356 L602.8 355.6 L603.5 354.7 L604.2 353.2 L605 351.1 L605.8 348.5 L606.5 345.3 L607.2 341.7 L608 337.6 L608.8 333.1 L609.5 328.2 L610.2 323.1 L611 317.7 L611.8 312.1 L612.5 306.4 L613.2 300.7 L614 295 L614.8 289.3 L615.5 283.8 L616.2 278.5 L617 273.4 L617.8 268.7 L618.5 264.3 L619.2 260.4 L620 256.9 L620.8 253.9 L621.5 251.5 L622.2 250.1 L623 249.9 L623.8 250.8 L624.5 252.3 L625.2 254 L626 255.7 L626.8 257.5 L627.5 259.2 L628.2 260.9 L629 262.7 L629.8 264.4 L630.5 266.1 L631.2 267.9 L632 269.6 L632.8 271.3 L633.5 273.1 L634.2 274.8 L635 276.5 L635.8 278.3 L636.5 280 L637.2 281.7 L638 283.4 L638.8 285.2 L639.5 286.9 L640.2 288.6 L641 290.4 L641.8 292.1 L642.5 293.8 L643.2 295.6 L644 297.3 L644.8 298.8 L645.5 300.3 L646.2 301.4 L647 302.3 L647.8 303 L648.5 303.5 L649.2 304.1 L650 304.7 L650.8 305.4 L651.5 306.1 L652.2 306.8 L653 307.4 L653.8 308.1 L654.5 308.8 L655.2 309.5 L656 310.2 L656.8 310.9 L657.5 311.5 L658.2 312.2 L659 312.9 L659.8 313.6 L660.5 314.3 L661.2 315 L662 315.6 L662.8 316.3 L663.5 317 L664.2 317.7 L665 318.4 L665.8 319.1 L666.5 319.8 L667.2 320.4 L668 321.1 L668.8 321.8 L669.5 322.5 L670.2 323.2 L671 323.9 L671.8 324.5 L672.5 325.2 L673.2 325.9 L674 326.6 L674.8 327.2 L675.5 327.8 L676.2 328.2 L677 328.5 L677.8 328.6 L678.5 328.6 L679.2 328.4 L680 328.1 L680.8 327.7 L681.5 327.1 L682.2 326.5 L683 325.7 L683.8 324.8 L684.5 323.9 L685.2 322.8 L686 321.6 L686.8 320.4 L687.5 319 L688.2 317.6 L689 316.1 L689.8 314.6 L690.5 313 L691.2 311.3 L692 309.7 L692.8 308 L693.5 306.3 L694.2 304.5 L695 302.8 L695.8 301.1 L696.5 299.4 L697.2 297.7 L698 296.1 L698.8 294.5 L699.5 293 L700.2 291.5 L701 290.1 L701.8 288.7 L702.5 287.5 L703.2 286.3 L704 285.2 L704.8 284.3 L705.5 283.4 L706.2 282.6 L707 282 L707.8 281.4 L708.5 281 L709.2 280.7 L710 280.6 L710.8 280.7 L711.5 281.1 L712.2 281.6 L713 282.2 L713.8 282.8 L714.5 283.5 L715.2 284.1 L716 284.7 L716.8 285.3 L717.5 285.9 L718.2 286.5 L719 287.1 L719.8 287.8 L720.5 288.4 L721.2 289 L722 289.6 L722.8 290.2 L723.5 290.8 L724.2 291.4 L725 292.1 L725.8 292.7 L726.5 293.3 L727.2 293.9 L728 294.5 L728.8 295.1 L729.5 295.7 L730.2 296.3 L731 297 L731.8 297.6 L732.5 298.2 L733.2 298.8 L734 299.4 L734.8 300 L735.5 300.6 L736.2 301.3 L737 301.9 L737.8 302.5 L738.5 303.1 L739.2 303.7 L740 304.3 L740.8 304.9 L741.5 305.6 L742.2 306.2 L743 306.8 L743.8 307.4 L744.5 308 L745.2 308.6 L746 309.2 L746.8 309.8 L747.5 310.5 L748.2 311.1 L749 311.7 L749.8 312.3 L750.5 312.9 L751.2 313.5 L752 314.1 L752.8 314.8 L753.5 315.4 L754.2 316 L755 316.6 L755.8 317.2 L756.5 317.8 L757.2 318.4 L758 319.1 L758.8 319.7 L759.5 320.3 L760.2 320.9 L761 321.5 L761.8 322.1 L762.5 322.7 L763.2 323.3 L764 324 L764.8 324.6 L765.5 325.2 L766.2 325.8 L767 326.4 L767.8 327 L768.5 327.5 L769.2 327.8 L770 328.1 L770.8 328.2 L771.5 328.1 L772.2 328 L773 327.6 L773.8 327.2 L774.5 326.6 L775.2 325.9 L776 325 L776.8 324.1 L777.5 323 L778.2 321.8 L779 320.6 L779.8 319.2 L780.5 317.8 L781.2 316.2 L782 314.6 L782.8 313 L783.5 311.3 L784.2 309.6 L785 307.8 L785.8 306 L786.5 304.2 L787.2 302.4 L788 300.7 L788.8 298.9 L789.5 297.2 L790.2 295.5 L791 293.9 L791.8 292.3 L792.5 290.8 L793.2 289.4 L794 288 L794.8 286.8 L795.5 285.6 L796.2 284.6 L797 283.7 L797.8 282.9 L798.5 282.2 L799.2 281.6 L800 281.2 L800.8 280.9 L801.5 280.7 L802.2 280.7 L803 280.7 L803.8 280.8 L804.5 280.9 L805.2 281 L806 281.2 L806.8 281.4 L807.5 281.7 L808.2 282 L809 282.4 L809.8 282.7 L810.5 283.2 L811.2 283.6 L812 284.1 L812.8 284.6 L813.5 285.2 L814.2 285.7 L815 286.4 L815.8 287 L816.5 287.7 L817.2 288.4 L818 289.1 L818.8 289.9 L819.5 290.6 L820.2 291.4 L821 292.3 L821.8 293.1 L822.5 293.9 L823.2 294.8 L824 295.7 L824.8 296.6 L825.5 297.5 L826.2 298.4 L827 299.4 L827.8 300.3 L828.5 301.2 L829.2 302.1 L830 302.7" fill="none" stroke="#151515" stroke-width="1.8" stroke-linejoin="round" stroke-linecap="round" />
<path d="M57.5 621 L58.2 621.6 L59 622.4 L59.8 623.3 L60.5 624.2 L61.2 625.1 L62 626 L62.8 626.9 L63.5 627.8 L64.2 628.7 L65 629.6 L65.8 630.5 L66.5 631.4 L67.2 632.3 L68 633.2 L68.8 634.1 L69.5 635 L70.2 635.9 L71 636.8 L71.8 637.8 L72.5 638.6 L73.2 639.4 L74 640 L74.8 640.3 L75.5 640.4 L76.2 640.4 L77 640.4 L77.8 640.3 L78.5 640.3 L79.2 640.3 L80 640.3 L80.8 640.2 L81.5 640.2 L82.2 640.2 L83 640.2 L83.8 640.1 L84.5 640.1 L85.2 640.1 L86 640.1 L86.8 640 L87.5 640 L88.2 640 L89 640 L89.8 639.9 L90.5 639.9 L91.2 639.9 L92 639.8 L92.8 639.8 L93.5 639.8 L94.2 639.8 L95 639.7 L95.8 639.7 L96.5 639.7 L97.2 639.7 L98 639.6 L98.8 639.6 L99.5 639.6 L100.2 639.6 L101 639.5 L101.8 639.5 L102.5 639.5 L103.2 639.5 L104 639.4 L104.8 639.4 L105.5 639.4 L106.2 639.4 L107 639.3 L107.8 639.3 L108.5 639.3 L109.2 639.2 L110 639.2 L110.8 639.2 L111.5 639.2 L112.2 639.1 L113 639.1 L113.8 639.1 L114.5 639.1 L115.2 639 L116 639 L116.8 639 L117.5 639 L118.2 638.9 L119 638.9 L119.8 638.9 L120.5 638.9 L121.2 638.8 L122 638.8 L122.8 638.8 L123.5 638.8 L124.2 638.7 L125 638.7 L125.8 638.7 L126.5 638.6 L127.2 638.6 L128 638.6 L128.8 638.6 L129.5 638.5 L130.2 638.5 L131 638.5 L131.8 638.5 L132.5 638.4 L133.2 638.4 L134 638.4 L134.8 638.4 L135.5 638.3 L136.2 638.3 L137 638.3 L137.8 638.3 L138.5 638.2 L139.2 638.2 L140 638.2 L140.8 638.2 L141.5 638.1 L142.2 638.1 L143 638.1 L143.8 638 L144.5 638 L145.2 638 L146 638 L146.8 637.9 L147.5 637.9 L148.2 637.9 L149 637.9 L149.8 637.8 L150.5 637.8 L151.2 637.8 L152 637.8 L152.8 637.7 L153.5 637.7 L154.2 637.7 L155 637.7 L155.8 637.6 L156.5 637.6 L157.2 637.6 L158 637.6 L158.8 637.5 L159.5 637.5 L160.2 637.5 L161 637.4 L161.8 637.4 L162.5 637.4 L163.2 637.4 L164 637.3 L164.8 637.3 L165.5 637.3 L166.2 637.3 L167 637.2 L167.8 637.2 L168.5 637.2 L169.2 637.2 L170 637.1 L170.8 637.1 L171.5 637.1 L172.2 637.1 L173 637 L173.8 637 L174.5 637 L175.2 637 L176 636.9 L176.8 636.9 L177.5 636.9 L178.2 636.8 L179 636.8 L179.8 636.8 L180.5 636.8 L181.2 636.7 L182 636.7 L182.8 636.7 L183.5 636.7 L184.2 636.7 L185 636.7 L185.8 636.8 L186.5 636.8 L187.2 637 L188 637.2 L188.8 637.4 L189.5 637.7 L190.2 638.1 L191 638.5 L191.8 638.9 L192.5 639.3 L193.2 639.7 L194 640.2 L194.8 640.7 L195.5 641.1 L196.2 641.6 L197 642 L197.8 642.4 L198.5 642.8 L199.2 643.1 L200 643.4 L200.8 643.6 L201.5 643.8 L202.2 643.9 L203 644 L203.8 644 L204.5 644 L205.2 643.9 L206 643.8 L206.8 643.7 L207.5 643.5 L208.2 643.3 L209 643.1 L209.8 642.8 L210.5 642.5 L211.2 642.2 L212 641.8 L212.8 641.4 L213.5 640.9 L214.2 640.5 L215 640 L215.8 639.4 L216.5 638.9 L217.2 638.3 L218 637.7 L218.8 637 L219.5 636.4 L220.2 635.7 L221 634.9 L221.8 634.2 L222.5 633.4 L223.2 632.6 L224 631.8 L224.8 631 L225.5 630.1 L226.2 629.2 L227 628.3 L227.8 627.4 L228.5 626.5 L229.2 625.5 L230 624.6 L230.8 623.6 L231.5 622.6 L232.2 621.7 L233 620.7 L233.8 619.6 L234.5 618.6 L235.2 617.6 L236 616.6 L236.8 615.6 L237.5 614.5 L238.2 613.5 L239 612.5 L239.8 611.5 L240.5 610.4 L241.2 609.4 L242 608.4 L242.8 607.4 L243.5 606.4 L244.2 605.4 L245 604.4 L245.8 603.4 L246.5 602.5 L247.2 601.5 L248 600.6 L248.8 599.7 L249.5 598.8 L250.2 598 L251 597.2 L251.8 596.7 L252.5 596.4 L253.2 596.3 L254 596.3 L254.8 596.3 L255.5 596.3 L256.2 596.3 L257 596.3 L257.8 596.3 L258.5 596.3 L259.2 596.4 L260 596.7 L260.8 597.2 L261.5 597.9 L262.2 598.7 L263 599.4 L263.8 600.2 L264.5 601 L265.2 601.8 L266 602.6 L266.8 603.3 L267.5 604.1 L268.2 604.9 L269 605.7 L269.8 606.5 L270.5 607.3 L271.2 608 L272 608.8 L272.8 609.6 L273.5 610.4 L274.2 611.2 L275 611.9 L275.8 612.7 L276.5 613.5 L277.2 614.3 L278 615.1 L278.8 615.9 L279.5 616.6 L280.2 617.4 L281 618.2 L281.8 619 L282.5 619.8 L283.2 620.5 L284 621.3 L284.8 622.1 L285.5 622.9 L286.2 623.7 L287 624.5 L287.8 625.2 L288.5 626 L289.2 626.8 L290 627.6 L290.8 628.4 L291.5 629.2 L292.2 629.9 L293 630.7 L293.8 631.5 L294.5 632.3 L295.2 633.1 L296 633.8 L296.8 634.6 L297.5 635.4 L298.2 636.2 L299 637 L299.8 637.8 L300.5 638.5 L301.2 639.3 L302 640.1 L302.8 640.9 L303.5 641.7 L304.2 642.4 L305 643.2 L305.8 644 L306.5 644.7 L307.2 645.2 L308 645.7 L308.8 645.9 L309.5 646 L310.2 645.9 L311 645.7 L311.8 645.4 L312.5 644.9 L313.2 644.2 L314 643.5 L314.8 642.7 L315.5 641.7 L316.2 640.6 L317 639.4 L317.8 638.2 L318.5 636.8 L319.2 635.3 L320 633.8 L320.8 632.2 L321.5 630.6 L322.2 628.9 L323 627.1 L323.8 625.4 L324.5 623.6 L325.2 621.8 L326 620 L326.8 618.2 L327.5 616.4 L328.2 614.6 L329 612.9 L329.8 611.2 L330.5 609.6 L331.2 608 L332 606.5 L332.8 605.1 L333.5 603.7 L334.2 602.5 L335 601.3 L335.8 600.3 L336.5 599.4 L337.2 598.6 L338 597.9 L338.8 597.3 L339.5 596.9 L340.2 596.6 L341 596.5 L341.8 596.7 L342.5 597.3 L343.2 598.1 L344 599 L344.8 599.9 L345.5 600.9 L346.2 601.8 L347 602.8 L347.8 603.7 L348.5 604.6 L349.2 605.6 L350 606.5 L350.8 607.4 L351.5 608.4 L352.2 609.3 L353 610.2 L353.8 611.2 L354.5 612.1 L355.2 613.1 L356 614 L356.8 614.9 L357.5 615.9 L358.2 616.8 L359 617.7 L359.8 618.7 L360.5 619.6 L361.2 620.5 L362 621.5 L362.8 622.4 L363.5 623.4 L364.2 624.3 L365 625.2 L365.8 626.2 L366.5 627.1 L367.2 628 L368 629 L368.8 629.9 L369.5 630.8 L370.2 631.8 L371 632.7 L371.8 633.7 L372.5 634.6 L373.2 635.5 L374 636.5 L374.8 637.4 L375.5 638.3 L376.2 639.3 L377 640.2 L377.8 641.1 L378.5 642 L379.2 642.8 L380 643.4 L380.8 643.8 L381.5 644 L382.2 644 L383 643.7 L383.8 643.3 L384.5 642.7 L385.2 641.9 L386 640.9 L386.8 639.7 L387.5 638.4 L388.2 636.9 L389 635.3 L389.8 633.6 L390.5 631.7 L391.2 629.7 L392 627.7 L392.8 625.6 L393.5 623.4 L394.2 621.2 L395 619 L395.8 616.8 L396.5 614.6 L397.2 612.5 L398 610.4 L398.8 608.3 L399.5 606.4 L400.2 604.5 L401 602.8 L401.8 601.1 L402.5 599.7 L403.2 598.3 L404 597.2 L404.8 596.2 L405.5 595.4 L406.2 594.8 L407 594.4 L407.8 594.3 L408.5 594.7 L409.2 595.5 L410 596.6 L410.8 597.7 L411.5 598.9 L412.2 600.2 L413 601.4 L413.8 602.6 L414.5 603.8 L415.2 605 L416 606.2 L416.8 607.4 L417.5 608.6 L418.2 609.8 L419 611 L419.8 612.2 L420.5 613.4 L421.2 614.6 L422 615.8 L422.8 617.1 L423.5 618.3 L424.2 619.5 L425 620.7 L425.8 621.9 L426.5 623.1 L427.2 624.3 L428 625.5 L428.8 626.7 L429.5 627.9 L430.2 629.1 L431 630.3 L431.8 631.5 L432.5 632.7 L433.2 633.9 L434 635.2 L434.8 636.4 L435.5 637.6 L436.2 638.8 L437 640 L437.8 641.2 L438.5 642.4 L439.2 643.6 L440 644.8 L440.8 646 L441.5 647.2 L442.2 648.3 L443 649.3 L443.8 650.1 L444.5 650.7 L445.2 651 L446 651 L446.8 650.8 L447.5 650.3 L448.2 649.6 L449 648.7 L449.8 647.7 L450.5 646.4 L451.2 644.9 L452 643.3 L452.8 641.5 L453.5 639.5 L454.2 637.4 L455 635.2 L455.8 632.9 L456.5 630.4 L457.2 627.9 L458 625.4 L458.8 622.8 L459.5 620.2 L460.2 617.6 L461 614.9 L461.8 612.4 L462.5 609.8 L463.2 607.3 L464 605 L464.8 602.7 L465.5 600.5 L466.2 598.4 L467 596.5 L467.8 594.8 L468.5 593.2 L469.2 591.8 L470 590.6 L470.8 589.5 L471.5 588.7 L472.2 588.2 L473 587.9 L473.8 588.1 L474.5 588.8 L475.2 590 L476 591.4 L476.8 592.9 L477.5 594.4 L478.2 596 L479 597.5 L479.8 599 L480.5 600.5 L481.2 602.1 L482 603.6 L482.8 605.1 L483.5 606.6 L484.2 608.2 L485 609.7 L485.8 611.2 L486.5 612.8 L487.2 614.3 L488 615.8 L488.8 617.3 L489.5 618.9 L490.2 620.4 L491 621.9 L491.8 623.5 L492.5 625 L493.2 626.5 L494 628 L494.8 629.6 L495.5 631.1 L496.2 632.6 L497 634.2 L497.8 635.7 L498.5 637.2 L499.2 638.7 L500 640.3 L500.8 641.8 L501.5 643.3 L502.2 644.9 L503 646.4 L503.8 647.9 L504.5 649.4 L505.2 651 L506 652.5 L506.8 654 L507.5 655.5 L508.2 656.8 L509 657.9 L509.8 658.8 L510.5 659.2 L511.2 659.3 L512 659.1 L512.8 658.5 L513.5 657.6 L514.2 656.4 L515 655 L515.8 653.2 L516.5 651.2 L517.2 648.9 L518 646.4 L518.8 643.7 L519.5 640.8 L520.2 637.7 L521 634.4 L521.8 631.1 L522.5 627.6 L523.2 624.1 L524 620.6 L524.8 617 L525.5 613.4 L526.2 609.9 L527 606.5 L527.8 603.1 L528.5 599.9 L529.2 596.8 L530 593.9 L530.8 591.2 L531.5 588.7 L532.2 586.4 L533 584.4 L533.8 582.7 L534.5 581.2 L535.2 580.1 L536 579.2 L536.8 578.8 L537.5 579.1 L538.2 580 L539 581.4 L539.8 583.2 L540.5 585.1 L541.2 586.9 L542 588.8 L542.8 590.7 L543.5 592.6 L544.2 594.4 L545 596.3 L545.8 598.2 L546.5 600.1 L547.2 601.9 L548 603.8 L548.8 605.7 L549.5 607.6 L550.2 609.4 L551 611.3 L551.8 613.2 L552.5 615.1 L553.2 617 L554 618.8 L554.8 620.7 L555.5 622.6 L556.2 624.5 L557 626.3 L557.8 628.2 L558.5 630.1 L559.2 632 L560 633.8 L560.8 635.7 L561.5 637.6 L562.2 639.5 L563 641.3 L563.8 643.2 L564.5 645.1 L565.2 647 L566 648.8 L566.8 650.7 L567.5 652.6 L568.2 654.5 L569 656.4 L569.8 658.2 L570.5 660.1 L571.2 661.9 L572 663.6 L572.8 665.1 L573.5 666.2 L574.2 667 L575 667.3 L575.8 667.2 L576.5 666.7 L577.2 665.8 L578 664.7 L578.8 663.2 L579.5 661.4 L580.2 659.3 L581 657 L581.8 654.4 L582.5 651.5 L583.2 648.4 L584 645.1 L584.8 641.6 L585.5 637.9 L586.2 634.1 L587 630.2 L587.8 626.2 L588.5 622.2 L589.2 618.1 L590 614 L590.8 610 L591.5 606 L592.2 602 L593 598.2 L593.8 594.6 L594.5 591 L595.2 587.7 L596 584.5 L596.8 581.6 L597.5 579 L598.2 576.5 L599 574.4 L599.8 572.6 L600.5 571.1 L601.2 570.2 L602 570.1 L602.8 571.2 L603.5 573.1 L604.2 575.5 L605 578 L605.8 580.6 L606.5 583.2 L607.2 585.7 L608 588.3 L608.8 590.9 L609.5 593.5 L610.2 596 L611 598.6 L611.8 601.2 L612.5 603.8 L613.2 606.4 L614 608.9 L614.8 611.5 L615.5 614.1 L616.2 616.7 L617 619.2 L617.8 621.8 L618.5 624.4 L619.2 627 L620 629.6 L620.8 632.1 L621.5 634.7 L622.2 637.3 L623 639.9 L623.8 642.4 L624.5 645 L625.2 647.6 L626 650.2 L626.8 652.8 L627.5 655.3 L628.2 657.9 L629 660.5 L629.8 663.1 L630.5 665.6 L631.2 668.1 L632 670.5 L632.8 672.6 L633.5 674.4 L634.2 675.7 L635 676.8 L635.8 677.8 L636.5 678.6 L637.2 678.8 L638 678 L638.8 676.2 L639.5 673.9 L640.2 671.4 L641 668.9 L641.8 666.4 L642.5 663.9 L643.2 661.4 L644 658.9 L644.8 656.5 L645.5 654.1 L646.2 651.7 L647 649.3 L647.8 647 L648.5 644.7 L649.2 642.4 L650 640.1 L650.8 637.9 L651.5 635.8 L652.2 633.6 L653 631.5 L653.8 629.5 L654.5 627.5 L655.2 625.5 L656 623.6 L656.8 621.8 L657.5 620 L658.2 618.2 L659 616.5 L659.8 614.9 L660.5 613.3 L661.2 611.8 L662 610.4 L662.8 609 L663.5 607.6 L664.2 606.4 L665 605.2 L665.8 604 L666.5 603 L667.2 602 L668 601.1 L668.8 600.2 L669.5 599.4 L670.2 598.7 L671 598.1 L671.8 597.5 L672.5 597 L673.2 596.6 L674 596.3 L674.8 596 L675.5 595.9 L676.2 595.8 L677 596 L677.8 596.4 L678.5 597 L679.2 597.7 L680 598.4 L680.8 599.1 L681.5 599.8 L682.2 600.6 L683 601.3 L683.8 602 L684.5 602.7 L685.2 603.4 L686 604.1 L686.8 604.8 L687.5 605.5 L688.2 606.2 L689 606.9 L689.8 607.6 L690.5 608.3 L691.2 609 L692 609.7 L692.8 610.5 L693.5 611.2 L694.2 611.9 L695 612.6 L695.8 613.3 L696.5 614 L697.2 614.7 L698 615.4 L698.8 616.1 L699.5 616.8 L700.2 617.5 L701 618.2 L701.8 618.9 L702.5 619.6 L703.2 620.3 L704 621.1 L704.8 621.8 L705.5 622.5 L706.2 623.2 L707 623.9 L707.8 624.6 L708.5 625.3 L709.2 626 L710 626.7 L710.8 627.4 L711.5 628.1 L712.2 628.8 L713 629.5 L713.8 630.2 L714.5 631 L715.2 631.7 L716 632.4 L716.8 633.1 L717.5 633.8 L718.2 634.5 L719 635.2 L719.8 635.9 L720.5 636.6 L721.2 637.3 L722 638 L722.8 638.7 L723.5 639.4 L724.2 640.1 L725 640.9 L725.8 641.6 L726.5 642.3 L727.2 643 L728 643.7 L728.8 644.3 L729.5 645 L730.2 645.5 L731 645.9 L731.8 646.1 L732.5 646.2 L733.2 646.2 L734 646 L734.8 645.7 L735.5 645.3 L736.2 644.8 L737 644.2 L737.8 643.5 L738.5 642.7 L739.2 641.8 L740 640.9 L740.8 639.8 L741.5 638.7 L742.2 637.5 L743 636.3 L743.8 634.9 L744.5 633.5 L745.2 632.1 L746 630.6 L746.8 629.1 L747.5 627.6 L748.2 626 L749 624.4 L749.8 622.8 L750.5 621.2 L751.2 619.6 L752 618 L752.8 616.4 L753.5 614.9 L754.2 613.4 L755 611.9 L755.8 610.5 L756.5 609.1 L757.2 607.7 L758 606.5 L758.8 605.3 L759.5 604.1 L760.2 603.1 L761 602.1 L761.8 601.2 L762.5 600.4 L763.2 599.8 L764 599.1 L764.8 598.6 L765.5 598.2 L766.2 598 L767 597.8 L767.8 597.9 L768.5 598.2 L769.2 598.7 L770 599.4 L770.8 600.1 L771.5 600.8 L772.2 601.4 L773 602.1 L773.8 602.8 L774.5 603.5 L775.2 604.2 L776 604.9 L776.8 605.6 L777.5 606.3 L778.2 607 L779 607.6 L779.8 608.3 L780.5 609 L781.2 609.7 L782 610.4 L782.8 611.1 L783.5 611.8 L784.2 612.5 L785 613.2 L785.8 613.8 L786.5 614.5 L787.2 615.2 L788 615.9 L788.8 616.6 L789.5 617.3 L790.2 618 L791 618.7 L791.8 619.3 L792.5 620 L793.2 620.7 L794 621.4 L794.8 622.1 L795.5 622.8 L796.2 623.5 L797 624.2 L797.8 624.9 L798.5 625.5 L799.2 626.2 L800 626.9 L800.8 627.6 L801.5 628.3 L802.2 629 L803 629.7 L803.8 630.4 L804.5 631.1 L805.2 631.7 L806 632.4 L806.8 633.1 L807.5 633.8 L808.2 634.5 L809 635.2 L809.8 635.9 L810.5 636.6 L811.2 637.3 L812 637.9 L812.8 638.6 L813.5 639.3 L814.2 640 L815 640.7 L815.8 641.4 L816.5 642 L817.2 642.7 L818 643.3 L818.8 643.9 L819.5 644.4 L820.2 644.8 L821 645.2 L821.8 645.4 L822.5 645.6 L823.2 645.6 L824 645.5 L824.8 645.3 L825.5 644.9 L826.2 644.4 L827 643.8 L827.8 643.1 L828.5 642.2 L829.2 641.4 L830 640.8" fill="none" stroke="#0c0c0c" stroke-width="2.05" stroke-linejoin="round" stroke-linecap="round" />
<line x1="185" y1="30" x2="185" y2="904" stroke="#111" stroke-width="1.8" />
<line x1="378.7" y1="30" x2="378.7" y2="904" stroke="#111" stroke-width="1.8" />
<line x1="634.9" y1="30" x2="634.9" y2="904" stroke="#111" stroke-width="1.8" />
<path d="M318 161.6 L303.6 161.6 L303.6 195.6 L318 195.6" fill="none" stroke="#111" stroke-width="1.8"/>
<path d="M318 207.4 L303.6 207.4 L303.6 243 L318 243" fill="none" stroke="#111" stroke-width="1.8"/>
<line x1="303.6" y1="181.7" x2="222" y2="260" stroke="#111" stroke-width="1.8" />
<line x1="303.6" y1="224.6" x2="272.3" y2="260" stroke="#111" stroke-width="1.8" />
<line x1="185" y1="260" x2="287.2" y2="260" stroke="#111" stroke-width="1.7" />
<path d="M185.5 260 L213.5 254.7 L207.3 260 L213.5 265.3 Z" fill="#111"/>
<path d="M255.2 260 L227.2 254.7 L233.4 260 L227.2 265.3 Z" fill="#111"/>
<path d="M255.8 260 L269.8 257.1 L267 260 L269.8 262.9 Z" fill="#111"/>
<path d="M287 260 L273 257.1 L275.8 260 L273 262.9 Z" fill="#111"/>
<line x1="255.5" y1="245" x2="255.5" y2="328.3" stroke="#111" stroke-width="1.8" />
<line x1="287.2" y1="241.4" x2="287.2" y2="279.5" stroke="#111" stroke-width="1.8" />
<line x1="710.7" y1="198.6" x2="710.7" y2="393.5" stroke="#111" stroke-width="1.8" />
<line x1="802.2" y1="200.4" x2="802.2" y2="280" stroke="#111" stroke-width="1.8" />
<line x1="770.8" y1="246" x2="770.8" y2="328" stroke="#111" stroke-width="1.8" />
<line x1="754.9" y1="344.8" x2="754.9" y2="384.5" stroke="#111" stroke-width="1.8" />
<line x1="710.7" y1="219.5" x2="802.2" y2="219.5" stroke="#111" stroke-width="1.6" />
<path d="M711 219.5 L737 214.8 L731.3 219.5 L737 224.2 Z" fill="#111"/>
<path d="M802 219.5 L775.5 214.8 L781.3 219.5 L775.5 224.2 Z" fill="#111"/>
<line x1="710.7" y1="268" x2="770.8" y2="268" stroke="#111" stroke-width="1.6" />
<path d="M711 268 L742 263.7 L735.8 268 L742 272.3 Z" fill="#111"/>
<path d="M770.6 268 L739.6 263.7 L745.8 268 L739.6 272.3 Z" fill="#111"/>
<line x1="710.7" y1="365" x2="754.9" y2="365" stroke="#111" stroke-width="1.6" />
<path d="M711 365 L731.5 361.3 L727.4 365 L731.5 368.7 Z" fill="#111"/>
<path d="M754.7 365 L734.2 361.3 L738.3 365 L734.2 368.7 Z" fill="#111"/>
</g>
<g id="labels">
<text x="90" y="28.7" font-size="30" text-anchor="start" class="cj" letter-spacing="0.9">静止</text>
<text x="216.4" y="26" font-size="30" text-anchor="start" class="cj" letter-spacing="0.9">周期改变</text>
<text x="213.8" y="64.3" font-size="30" text-anchor="start" class="cj" letter-spacing="0.9">步长恒定</text>
<text x="446" y="27" font-size="30" text-anchor="start" class="cj" letter-spacing="0.9">周期恒定</text>
<text x="445" y="64.2" font-size="30" text-anchor="start" class="cj" letter-spacing="0.9">步长改变</text>
<text x="675.5" y="28.2" font-size="30" text-anchor="start" class="cj" letter-spacing="0.9">周期恒定</text>
<text x="675.5" y="65.2" font-size="30" text-anchor="start" class="cj" letter-spacing="0.9">步长恒定</text>
<text x="306.3" y="190.8" font-size="29" text-anchor="start" class="cj" letter-spacing="2.45">支撑相：近似直线</text>
<text x="306.3" y="236.6" font-size="29" text-anchor="start" class="cj" letter-spacing="2.45">摆动相：近似余弦曲线</text>
<text x="16" y="35.7" font-size="30.5" text-anchor="start" class="la" >18</text>
<text x="15.8" y="131.8" font-size="31" text-anchor="start" class="la" >10</text>
<text x="31" y="244.2" font-size="31" text-anchor="start" class="la" >0</text>
<text class="cj"><tspan x="-1.1" y="314.7" font-size="30">足</tspan><tspan class="la" x="29.8" y="315.7" font-size="31">1</tspan></text>
<text class="cj"><tspan x="-1.1" y="414.4" font-size="30">足</tspan><tspan class="la" x="29.8" y="415.4" font-size="31">2</tspan></text>
<text class="cj"><tspan x="-1.1" y="527.3" font-size="30">足</tspan><tspan class="la" x="29.8" y="528.3" font-size="31">3</tspan></text>
<text class="cj"><tspan x="-1.1" y="633.3" font-size="30">足</tspan><tspan class="la" x="29.8" y="634.3" font-size="31">4</tspan></text>
<text class="cj"><tspan x="-1.1" y="737.3" font-size="30">足</tspan><tspan class="la" x="29.8" y="738.3" font-size="31">5</tspan></text>
<text class="cj"><tspan x="-1.1" y="841.9" font-size="30">足</tspan><tspan class="la" x="29.8" y="842.9" font-size="31">6</tspan></text>
<text x="181.8" y="945.3" font-size="32" text-anchor="middle" class="la" >2</text>
<text x="377.5" y="945.3" font-size="32" text-anchor="middle" class="la" >5</text>
<text x="634" y="945.3" font-size="32" text-anchor="middle" class="la" >9</text>
<text x="800.5" y="944.5" font-size="30" class="la"><tspan font-style="italic">t</tspan>/s</text>
<text x="748.5" y="214.4" font-size="32" class="la" font-style="italic">T</text>
<text x="719.5" y="250" font-size="32" class="la"><tspan font-style="italic">β</tspan><tspan font-size="17" dy="11" dx="-1.2">1</tspan><tspan font-style="italic" dy="-11" dx="-0.3">T</tspan></text>
<text x="713.5" y="349.8" font-size="33" class="la"><tspan font-style="italic">φ</tspan><tspan font-size="17" dy="11.5" dx="-1.5">2</tspan><tspan font-style="italic" font-size="32" dy="-11.5" dx="0">T</tspan></text>
</g>
</svg>
</body>
</html>
